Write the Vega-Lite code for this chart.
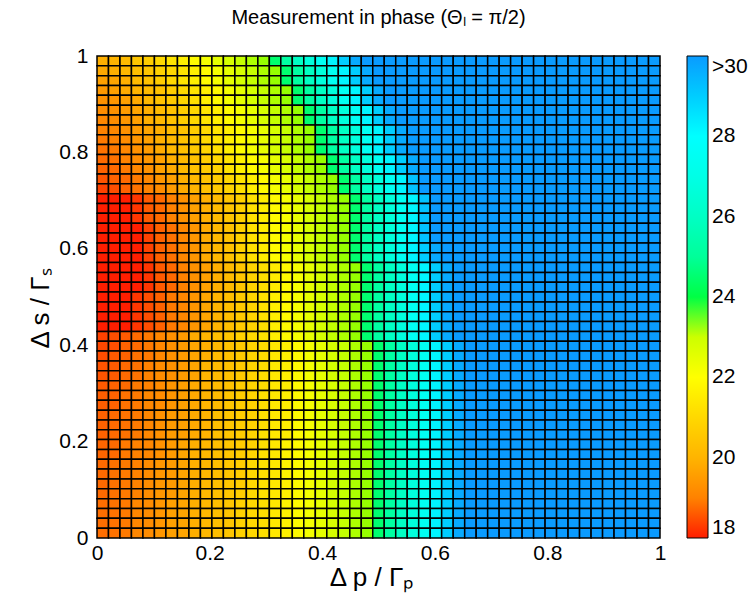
{
"$schema": "https://vega.github.io/schema/vega-lite/v6.json",
"width": 563, "height": 482,
"autosize": "none",
"padding": {"left": 97, "top": 56, "right": 96, "bottom": 69},
"background": "white",
"title": {"text": "Measurement in phase (Θₗ = π/2)", "font": "Liberation Sans", "fontSize": 20, "fontWeight": "normal", "color": "#000", "offset": 17, "anchor": "middle"},
"config": {"view": {"stroke": null}, "font": "Liberation Sans"},
"datasets": {
"grid": [{"k":0,"lo":0,"hi":0.0204},{"k":1,"lo":0.0204,"hi":0.0408},{"k":2,"lo":0.0408,"hi":0.0612},{"k":3,"lo":0.0612,"hi":0.0816},{"k":4,"lo":0.0816,"hi":0.102},{"k":5,"lo":0.102,"hi":0.1224},{"k":6,"lo":0.1224,"hi":0.1429},{"k":7,"lo":0.1429,"hi":0.1633},{"k":8,"lo":0.1633,"hi":0.1837},{"k":9,"lo":0.1837,"hi":0.2041},{"k":10,"lo":0.2041,"hi":0.2245},{"k":11,"lo":0.2245,"hi":0.2449},{"k":12,"lo":0.2449,"hi":0.2653},{"k":13,"lo":0.2653,"hi":0.2857},{"k":14,"lo":0.2857,"hi":0.3061},{"k":15,"lo":0.3061,"hi":0.3265},{"k":16,"lo":0.3265,"hi":0.3469},{"k":17,"lo":0.3469,"hi":0.3673},{"k":18,"lo":0.3673,"hi":0.3878},{"k":19,"lo":0.3878,"hi":0.4082},{"k":20,"lo":0.4082,"hi":0.4286},{"k":21,"lo":0.4286,"hi":0.449},{"k":22,"lo":0.449,"hi":0.4694},{"k":23,"lo":0.4694,"hi":0.4898},{"k":24,"lo":0.4898,"hi":0.5102},{"k":25,"lo":0.5102,"hi":0.5306},{"k":26,"lo":0.5306,"hi":0.551},{"k":27,"lo":0.551,"hi":0.5714},{"k":28,"lo":0.5714,"hi":0.5918},{"k":29,"lo":0.5918,"hi":0.6122},{"k":30,"lo":0.6122,"hi":0.6327},{"k":31,"lo":0.6327,"hi":0.6531},{"k":32,"lo":0.6531,"hi":0.6735},{"k":33,"lo":0.6735,"hi":0.6939},{"k":34,"lo":0.6939,"hi":0.7143},{"k":35,"lo":0.7143,"hi":0.7347},{"k":36,"lo":0.7347,"hi":0.7551},{"k":37,"lo":0.7551,"hi":0.7755},{"k":38,"lo":0.7755,"hi":0.7959},{"k":39,"lo":0.7959,"hi":0.8163},{"k":40,"lo":0.8163,"hi":0.8367},{"k":41,"lo":0.8367,"hi":0.8571},{"k":42,"lo":0.8571,"hi":0.8776},{"k":43,"lo":0.8776,"hi":0.898},{"k":44,"lo":0.898,"hi":0.9184},{"k":45,"lo":0.9184,"hi":0.9388},{"k":46,"lo":0.9388,"hi":0.9592},{"k":47,"lo":0.9592,"hi":0.9796},{"k":48,"lo":0.9796,"hi":1}],
"cells": [
{"i":0,"j":48,"v":19.9},{"i":1,"j":48,"v":20},{"i":2,"j":48,"v":20.2},{"i":3,"j":48,"v":20.5},{"i":4,"j":48,"v":20.7},{"i":5,"j":48,"v":21},{"i":6,"j":48,"v":21.3},{"i":7,"j":48,"v":21.6},{"i":8,"j":48,"v":21.9},{"i":9,"j":48,"v":22.2},{"i":10,"j":48,"v":22.5},{"i":11,"j":48,"v":22.8},{"i":12,"j":48,"v":23.1},{"i":13,"j":48,"v":23.4},{"i":14,"j":48,"v":23.7},{"i":15,"j":48,"v":24.5},{"i":16,"j":48,"v":25.2},{"i":17,"j":48,"v":26},{"i":18,"j":48,"v":26.7},{"i":19,"j":48,"v":27.5},{"i":20,"j":48,"v":28.2},{"i":21,"j":48,"v":29},{"i":22,"j":48,"v":29.7},{"i":23,"j":48,"v":31},{"i":24,"j":48,"v":31},{"i":25,"j":48,"v":31},{"i":26,"j":48,"v":31},{"i":27,"j":48,"v":31},{"i":28,"j":48,"v":31},{"i":29,"j":48,"v":31},{"i":30,"j":48,"v":31},{"i":31,"j":48,"v":31},{"i":32,"j":48,"v":31},{"i":33,"j":48,"v":31},{"i":34,"j":48,"v":31},{"i":35,"j":48,"v":31},{"i":36,"j":48,"v":31},{"i":37,"j":48,"v":31},{"i":38,"j":48,"v":31},{"i":39,"j":48,"v":31},{"i":40,"j":48,"v":31},{"i":41,"j":48,"v":31},{"i":42,"j":48,"v":31},{"i":43,"j":48,"v":31},{"i":44,"j":48,"v":31},{"i":45,"j":48,"v":31},{"i":46,"j":48,"v":31},{"i":47,"j":48,"v":31},{"i":48,"j":48,"v":31},
{"i":0,"j":47,"v":19.75},{"i":1,"j":47,"v":19.9},{"i":2,"j":47,"v":20.1},{"i":3,"j":47,"v":20.3},{"i":4,"j":47,"v":20.5},{"i":5,"j":47,"v":20.8},{"i":6,"j":47,"v":21},{"i":7,"j":47,"v":21.3},{"i":8,"j":47,"v":21.6},{"i":9,"j":47,"v":21.9},{"i":10,"j":47,"v":22.2},{"i":11,"j":47,"v":22.5},{"i":12,"j":47,"v":22.8},{"i":13,"j":47,"v":23.1},{"i":14,"j":47,"v":23.4},{"i":15,"j":47,"v":23.7},{"i":16,"j":47,"v":24.5},{"i":17,"j":47,"v":25.2},{"i":18,"j":47,"v":26},{"i":19,"j":47,"v":26.7},{"i":20,"j":47,"v":27.5},{"i":21,"j":47,"v":28.2},{"i":22,"j":47,"v":29},{"i":23,"j":47,"v":29.7},{"i":24,"j":47,"v":31},{"i":25,"j":47,"v":31},{"i":26,"j":47,"v":31},{"i":27,"j":47,"v":31},{"i":28,"j":47,"v":31},{"i":29,"j":47,"v":31},{"i":30,"j":47,"v":31},{"i":31,"j":47,"v":31},{"i":32,"j":47,"v":31},{"i":33,"j":47,"v":31},{"i":34,"j":47,"v":31},{"i":35,"j":47,"v":31},{"i":36,"j":47,"v":31},{"i":37,"j":47,"v":31},{"i":38,"j":47,"v":31},{"i":39,"j":47,"v":31},{"i":40,"j":47,"v":31},{"i":41,"j":47,"v":31},{"i":42,"j":47,"v":31},{"i":43,"j":47,"v":31},{"i":44,"j":47,"v":31},{"i":45,"j":47,"v":31},{"i":46,"j":47,"v":31},{"i":47,"j":47,"v":31},{"i":48,"j":47,"v":31},
{"i":0,"j":46,"v":19.6},{"i":1,"j":46,"v":19.7},{"i":2,"j":46,"v":19.9},{"i":3,"j":46,"v":20.2},{"i":4,"j":46,"v":20.4},{"i":5,"j":46,"v":20.7},{"i":6,"j":46,"v":21},{"i":7,"j":46,"v":21.3},{"i":8,"j":46,"v":21.6},{"i":9,"j":46,"v":21.9},{"i":10,"j":46,"v":22.2},{"i":11,"j":46,"v":22.5},{"i":12,"j":46,"v":22.8},{"i":13,"j":46,"v":23.1},{"i":14,"j":46,"v":23.4},{"i":15,"j":46,"v":23.7},{"i":16,"j":46,"v":24.5},{"i":17,"j":46,"v":25.2},{"i":18,"j":46,"v":26},{"i":19,"j":46,"v":26.7},{"i":20,"j":46,"v":27.5},{"i":21,"j":46,"v":28.2},{"i":22,"j":46,"v":29},{"i":23,"j":46,"v":29.7},{"i":24,"j":46,"v":31},{"i":25,"j":46,"v":31},{"i":26,"j":46,"v":31},{"i":27,"j":46,"v":31},{"i":28,"j":46,"v":31},{"i":29,"j":46,"v":31},{"i":30,"j":46,"v":31},{"i":31,"j":46,"v":31},{"i":32,"j":46,"v":31},{"i":33,"j":46,"v":31},{"i":34,"j":46,"v":31},{"i":35,"j":46,"v":31},{"i":36,"j":46,"v":31},{"i":37,"j":46,"v":31},{"i":38,"j":46,"v":31},{"i":39,"j":46,"v":31},{"i":40,"j":46,"v":31},{"i":41,"j":46,"v":31},{"i":42,"j":46,"v":31},{"i":43,"j":46,"v":31},{"i":44,"j":46,"v":31},{"i":45,"j":46,"v":31},{"i":46,"j":46,"v":31},{"i":47,"j":46,"v":31},{"i":48,"j":46,"v":31},
{"i":0,"j":45,"v":19.45},{"i":1,"j":45,"v":19.6},{"i":2,"j":45,"v":19.8},{"i":3,"j":45,"v":20},{"i":4,"j":45,"v":20.2},{"i":5,"j":45,"v":20.4},{"i":6,"j":45,"v":20.7},{"i":7,"j":45,"v":21},{"i":8,"j":45,"v":21.3},{"i":9,"j":45,"v":21.6},{"i":10,"j":45,"v":21.9},{"i":11,"j":45,"v":22.2},{"i":12,"j":45,"v":22.5},{"i":13,"j":45,"v":22.8},{"i":14,"j":45,"v":23.1},{"i":15,"j":45,"v":23.4},{"i":16,"j":45,"v":23.7},{"i":17,"j":45,"v":24.5},{"i":18,"j":45,"v":25.2},{"i":19,"j":45,"v":26},{"i":20,"j":45,"v":26.7},{"i":21,"j":45,"v":27.5},{"i":22,"j":45,"v":28.2},{"i":23,"j":45,"v":29},{"i":24,"j":45,"v":29.7},{"i":25,"j":45,"v":31},{"i":26,"j":45,"v":31},{"i":27,"j":45,"v":31},{"i":28,"j":45,"v":31},{"i":29,"j":45,"v":31},{"i":30,"j":45,"v":31},{"i":31,"j":45,"v":31},{"i":32,"j":45,"v":31},{"i":33,"j":45,"v":31},{"i":34,"j":45,"v":31},{"i":35,"j":45,"v":31},{"i":36,"j":45,"v":31},{"i":37,"j":45,"v":31},{"i":38,"j":45,"v":31},{"i":39,"j":45,"v":31},{"i":40,"j":45,"v":31},{"i":41,"j":45,"v":31},{"i":42,"j":45,"v":31},{"i":43,"j":45,"v":31},{"i":44,"j":45,"v":31},{"i":45,"j":45,"v":31},{"i":46,"j":45,"v":31},{"i":47,"j":45,"v":31},{"i":48,"j":45,"v":31},
{"i":0,"j":44,"v":19.3},{"i":1,"j":44,"v":19.4},{"i":2,"j":44,"v":19.6},{"i":3,"j":44,"v":19.8},{"i":4,"j":44,"v":20.1},{"i":5,"j":44,"v":20.4},{"i":6,"j":44,"v":20.6},{"i":7,"j":44,"v":20.9},{"i":8,"j":44,"v":21.2},{"i":9,"j":44,"v":21.6},{"i":10,"j":44,"v":21.9},{"i":11,"j":44,"v":22.2},{"i":12,"j":44,"v":22.5},{"i":13,"j":44,"v":22.8},{"i":14,"j":44,"v":23.1},{"i":15,"j":44,"v":23.4},{"i":16,"j":44,"v":23.7},{"i":17,"j":44,"v":24.5},{"i":18,"j":44,"v":25.2},{"i":19,"j":44,"v":26},{"i":20,"j":44,"v":26.7},{"i":21,"j":44,"v":27.5},{"i":22,"j":44,"v":28.2},{"i":23,"j":44,"v":29},{"i":24,"j":44,"v":29.7},{"i":25,"j":44,"v":31},{"i":26,"j":44,"v":31},{"i":27,"j":44,"v":31},{"i":28,"j":44,"v":31},{"i":29,"j":44,"v":31},{"i":30,"j":44,"v":31},{"i":31,"j":44,"v":31},{"i":32,"j":44,"v":31},{"i":33,"j":44,"v":31},{"i":34,"j":44,"v":31},{"i":35,"j":44,"v":31},{"i":36,"j":44,"v":31},{"i":37,"j":44,"v":31},{"i":38,"j":44,"v":31},{"i":39,"j":44,"v":31},{"i":40,"j":44,"v":31},{"i":41,"j":44,"v":31},{"i":42,"j":44,"v":31},{"i":43,"j":44,"v":31},{"i":44,"j":44,"v":31},{"i":45,"j":44,"v":31},{"i":46,"j":44,"v":31},{"i":47,"j":44,"v":31},{"i":48,"j":44,"v":31},
{"i":0,"j":43,"v":19.2},{"i":1,"j":43,"v":19.3},{"i":2,"j":43,"v":19.5},{"i":3,"j":43,"v":19.7},{"i":4,"j":43,"v":19.9},{"i":5,"j":43,"v":20.2},{"i":6,"j":43,"v":20.4},{"i":7,"j":43,"v":20.7},{"i":8,"j":43,"v":21},{"i":9,"j":43,"v":21.3},{"i":10,"j":43,"v":21.6},{"i":11,"j":43,"v":21.9},{"i":12,"j":43,"v":22.2},{"i":13,"j":43,"v":22.5},{"i":14,"j":43,"v":22.8},{"i":15,"j":43,"v":23.1},{"i":16,"j":43,"v":23.4},{"i":17,"j":43,"v":23.7},{"i":18,"j":43,"v":24.5},{"i":19,"j":43,"v":25.2},{"i":20,"j":43,"v":26},{"i":21,"j":43,"v":26.7},{"i":22,"j":43,"v":27.5},{"i":23,"j":43,"v":28.2},{"i":24,"j":43,"v":29},{"i":25,"j":43,"v":29.7},{"i":26,"j":43,"v":31},{"i":27,"j":43,"v":31},{"i":28,"j":43,"v":31},{"i":29,"j":43,"v":31},{"i":30,"j":43,"v":31},{"i":31,"j":43,"v":31},{"i":32,"j":43,"v":31},{"i":33,"j":43,"v":31},{"i":34,"j":43,"v":31},{"i":35,"j":43,"v":31},{"i":36,"j":43,"v":31},{"i":37,"j":43,"v":31},{"i":38,"j":43,"v":31},{"i":39,"j":43,"v":31},{"i":40,"j":43,"v":31},{"i":41,"j":43,"v":31},{"i":42,"j":43,"v":31},{"i":43,"j":43,"v":31},{"i":44,"j":43,"v":31},{"i":45,"j":43,"v":31},{"i":46,"j":43,"v":31},{"i":47,"j":43,"v":31},{"i":48,"j":43,"v":31},
{"i":0,"j":42,"v":19.1},{"i":1,"j":42,"v":19.2},{"i":2,"j":42,"v":19.4},{"i":3,"j":42,"v":19.6},{"i":4,"j":42,"v":19.9},{"i":5,"j":42,"v":20.1},{"i":6,"j":42,"v":20.4},{"i":7,"j":42,"v":20.7},{"i":8,"j":42,"v":21},{"i":9,"j":42,"v":21.3},{"i":10,"j":42,"v":21.6},{"i":11,"j":42,"v":21.9},{"i":12,"j":42,"v":22.2},{"i":13,"j":42,"v":22.5},{"i":14,"j":42,"v":22.8},{"i":15,"j":42,"v":23.1},{"i":16,"j":42,"v":23.4},{"i":17,"j":42,"v":23.7},{"i":18,"j":42,"v":24.5},{"i":19,"j":42,"v":25.2},{"i":20,"j":42,"v":26},{"i":21,"j":42,"v":26.7},{"i":22,"j":42,"v":27.5},{"i":23,"j":42,"v":28.2},{"i":24,"j":42,"v":29},{"i":25,"j":42,"v":29.7},{"i":26,"j":42,"v":31},{"i":27,"j":42,"v":31},{"i":28,"j":42,"v":31},{"i":29,"j":42,"v":31},{"i":30,"j":42,"v":31},{"i":31,"j":42,"v":31},{"i":32,"j":42,"v":31},{"i":33,"j":42,"v":31},{"i":34,"j":42,"v":31},{"i":35,"j":42,"v":31},{"i":36,"j":42,"v":31},{"i":37,"j":42,"v":31},{"i":38,"j":42,"v":31},{"i":39,"j":42,"v":31},{"i":40,"j":42,"v":31},{"i":41,"j":42,"v":31},{"i":42,"j":42,"v":31},{"i":43,"j":42,"v":31},{"i":44,"j":42,"v":31},{"i":45,"j":42,"v":31},{"i":46,"j":42,"v":31},{"i":47,"j":42,"v":31},{"i":48,"j":42,"v":31},
{"i":0,"j":41,"v":19},{"i":1,"j":41,"v":19.1},{"i":2,"j":41,"v":19.3},{"i":3,"j":41,"v":19.5},{"i":4,"j":41,"v":19.7},{"i":5,"j":41,"v":19.9},{"i":6,"j":41,"v":20.2},{"i":7,"j":41,"v":20.4},{"i":8,"j":41,"v":20.7},{"i":9,"j":41,"v":21},{"i":10,"j":41,"v":21.3},{"i":11,"j":41,"v":21.6},{"i":12,"j":41,"v":21.9},{"i":13,"j":41,"v":22.2},{"i":14,"j":41,"v":22.5},{"i":15,"j":41,"v":22.8},{"i":16,"j":41,"v":23.1},{"i":17,"j":41,"v":23.4},{"i":18,"j":41,"v":23.7},{"i":19,"j":41,"v":24.5},{"i":20,"j":41,"v":25.2},{"i":21,"j":41,"v":26},{"i":22,"j":41,"v":26.7},{"i":23,"j":41,"v":27.5},{"i":24,"j":41,"v":28.2},{"i":25,"j":41,"v":29},{"i":26,"j":41,"v":29.7},{"i":27,"j":41,"v":31},{"i":28,"j":41,"v":31},{"i":29,"j":41,"v":31},{"i":30,"j":41,"v":31},{"i":31,"j":41,"v":31},{"i":32,"j":41,"v":31},{"i":33,"j":41,"v":31},{"i":34,"j":41,"v":31},{"i":35,"j":41,"v":31},{"i":36,"j":41,"v":31},{"i":37,"j":41,"v":31},{"i":38,"j":41,"v":31},{"i":39,"j":41,"v":31},{"i":40,"j":41,"v":31},{"i":41,"j":41,"v":31},{"i":42,"j":41,"v":31},{"i":43,"j":41,"v":31},{"i":44,"j":41,"v":31},{"i":45,"j":41,"v":31},{"i":46,"j":41,"v":31},{"i":47,"j":41,"v":31},{"i":48,"j":41,"v":31},
{"i":0,"j":40,"v":18.9},{"i":1,"j":40,"v":19},{"i":2,"j":40,"v":19.2},{"i":3,"j":40,"v":19.4},{"i":4,"j":40,"v":19.6},{"i":5,"j":40,"v":19.9},{"i":6,"j":40,"v":20.1},{"i":7,"j":40,"v":20.4},{"i":8,"j":40,"v":20.7},{"i":9,"j":40,"v":21},{"i":10,"j":40,"v":21.3},{"i":11,"j":40,"v":21.6},{"i":12,"j":40,"v":21.9},{"i":13,"j":40,"v":22.2},{"i":14,"j":40,"v":22.5},{"i":15,"j":40,"v":22.8},{"i":16,"j":40,"v":23.1},{"i":17,"j":40,"v":23.4},{"i":18,"j":40,"v":23.7},{"i":19,"j":40,"v":24.5},{"i":20,"j":40,"v":25.2},{"i":21,"j":40,"v":26},{"i":22,"j":40,"v":26.7},{"i":23,"j":40,"v":27.5},{"i":24,"j":40,"v":28.2},{"i":25,"j":40,"v":29},{"i":26,"j":40,"v":29.7},{"i":27,"j":40,"v":31},{"i":28,"j":40,"v":31},{"i":29,"j":40,"v":31},{"i":30,"j":40,"v":31},{"i":31,"j":40,"v":31},{"i":32,"j":40,"v":31},{"i":33,"j":40,"v":31},{"i":34,"j":40,"v":31},{"i":35,"j":40,"v":31},{"i":36,"j":40,"v":31},{"i":37,"j":40,"v":31},{"i":38,"j":40,"v":31},{"i":39,"j":40,"v":31},{"i":40,"j":40,"v":31},{"i":41,"j":40,"v":31},{"i":42,"j":40,"v":31},{"i":43,"j":40,"v":31},{"i":44,"j":40,"v":31},{"i":45,"j":40,"v":31},{"i":46,"j":40,"v":31},{"i":47,"j":40,"v":31},{"i":48,"j":40,"v":31},
{"i":0,"j":39,"v":18.8},{"i":1,"j":39,"v":18.9},{"i":2,"j":39,"v":19.1},{"i":3,"j":39,"v":19.3},{"i":4,"j":39,"v":19.5},{"i":5,"j":39,"v":19.8},{"i":6,"j":39,"v":20.1},{"i":7,"j":39,"v":20.3},{"i":8,"j":39,"v":20.6},{"i":9,"j":39,"v":20.9},{"i":10,"j":39,"v":21.2},{"i":11,"j":39,"v":21.6},{"i":12,"j":39,"v":21.9},{"i":13,"j":39,"v":22.2},{"i":14,"j":39,"v":22.5},{"i":15,"j":39,"v":22.8},{"i":16,"j":39,"v":23.1},{"i":17,"j":39,"v":23.4},{"i":18,"j":39,"v":23.7},{"i":19,"j":39,"v":24.5},{"i":20,"j":39,"v":25.2},{"i":21,"j":39,"v":26},{"i":22,"j":39,"v":26.7},{"i":23,"j":39,"v":27.5},{"i":24,"j":39,"v":28.2},{"i":25,"j":39,"v":29},{"i":26,"j":39,"v":29.7},{"i":27,"j":39,"v":31},{"i":28,"j":39,"v":31},{"i":29,"j":39,"v":31},{"i":30,"j":39,"v":31},{"i":31,"j":39,"v":31},{"i":32,"j":39,"v":31},{"i":33,"j":39,"v":31},{"i":34,"j":39,"v":31},{"i":35,"j":39,"v":31},{"i":36,"j":39,"v":31},{"i":37,"j":39,"v":31},{"i":38,"j":39,"v":31},{"i":39,"j":39,"v":31},{"i":40,"j":39,"v":31},{"i":41,"j":39,"v":31},{"i":42,"j":39,"v":31},{"i":43,"j":39,"v":31},{"i":44,"j":39,"v":31},{"i":45,"j":39,"v":31},{"i":46,"j":39,"v":31},{"i":47,"j":39,"v":31},{"i":48,"j":39,"v":31},
{"i":0,"j":38,"v":18.7},{"i":1,"j":38,"v":18.8},{"i":2,"j":38,"v":19},{"i":3,"j":38,"v":19.2},{"i":4,"j":38,"v":19.4},{"i":5,"j":38,"v":19.6},{"i":6,"j":38,"v":19.9},{"i":7,"j":38,"v":20.1},{"i":8,"j":38,"v":20.4},{"i":9,"j":38,"v":20.7},{"i":10,"j":38,"v":21},{"i":11,"j":38,"v":21.3},{"i":12,"j":38,"v":21.6},{"i":13,"j":38,"v":21.9},{"i":14,"j":38,"v":22.2},{"i":15,"j":38,"v":22.5},{"i":16,"j":38,"v":22.8},{"i":17,"j":38,"v":23.1},{"i":18,"j":38,"v":23.4},{"i":19,"j":38,"v":23.7},{"i":20,"j":38,"v":24.5},{"i":21,"j":38,"v":25.2},{"i":22,"j":38,"v":26},{"i":23,"j":38,"v":26.7},{"i":24,"j":38,"v":27.5},{"i":25,"j":38,"v":28.2},{"i":26,"j":38,"v":29},{"i":27,"j":38,"v":29.7},{"i":28,"j":38,"v":31},{"i":29,"j":38,"v":31},{"i":30,"j":38,"v":31},{"i":31,"j":38,"v":31},{"i":32,"j":38,"v":31},{"i":33,"j":38,"v":31},{"i":34,"j":38,"v":31},{"i":35,"j":38,"v":31},{"i":36,"j":38,"v":31},{"i":37,"j":38,"v":31},{"i":38,"j":38,"v":31},{"i":39,"j":38,"v":31},{"i":40,"j":38,"v":31},{"i":41,"j":38,"v":31},{"i":42,"j":38,"v":31},{"i":43,"j":38,"v":31},{"i":44,"j":38,"v":31},{"i":45,"j":38,"v":31},{"i":46,"j":38,"v":31},{"i":47,"j":38,"v":31},{"i":48,"j":38,"v":31},
{"i":0,"j":37,"v":18.6},{"i":1,"j":37,"v":18.7},{"i":2,"j":37,"v":18.9},{"i":3,"j":37,"v":19.1},{"i":4,"j":37,"v":19.3},{"i":5,"j":37,"v":19.6},{"i":6,"j":37,"v":19.8},{"i":7,"j":37,"v":20.1},{"i":8,"j":37,"v":20.4},{"i":9,"j":37,"v":20.6},{"i":10,"j":37,"v":20.9},{"i":11,"j":37,"v":21.3},{"i":12,"j":37,"v":21.6},{"i":13,"j":37,"v":21.9},{"i":14,"j":37,"v":22.2},{"i":15,"j":37,"v":22.5},{"i":16,"j":37,"v":22.8},{"i":17,"j":37,"v":23.1},{"i":18,"j":37,"v":23.4},{"i":19,"j":37,"v":23.7},{"i":20,"j":37,"v":24.5},{"i":21,"j":37,"v":25.2},{"i":22,"j":37,"v":26},{"i":23,"j":37,"v":26.7},{"i":24,"j":37,"v":27.5},{"i":25,"j":37,"v":28.2},{"i":26,"j":37,"v":29},{"i":27,"j":37,"v":29.7},{"i":28,"j":37,"v":31},{"i":29,"j":37,"v":31},{"i":30,"j":37,"v":31},{"i":31,"j":37,"v":31},{"i":32,"j":37,"v":31},{"i":33,"j":37,"v":31},{"i":34,"j":37,"v":31},{"i":35,"j":37,"v":31},{"i":36,"j":37,"v":31},{"i":37,"j":37,"v":31},{"i":38,"j":37,"v":31},{"i":39,"j":37,"v":31},{"i":40,"j":37,"v":31},{"i":41,"j":37,"v":31},{"i":42,"j":37,"v":31},{"i":43,"j":37,"v":31},{"i":44,"j":37,"v":31},{"i":45,"j":37,"v":31},{"i":46,"j":37,"v":31},{"i":47,"j":37,"v":31},{"i":48,"j":37,"v":31},
{"i":0,"j":36,"v":18.45},{"i":1,"j":36,"v":18.6},{"i":2,"j":36,"v":18.7},{"i":3,"j":36,"v":18.9},{"i":4,"j":36,"v":19.1},{"i":5,"j":36,"v":19.4},{"i":6,"j":36,"v":19.6},{"i":7,"j":36,"v":19.9},{"i":8,"j":36,"v":20.1},{"i":9,"j":36,"v":20.4},{"i":10,"j":36,"v":20.7},{"i":11,"j":36,"v":21},{"i":12,"j":36,"v":21.3},{"i":13,"j":36,"v":21.6},{"i":14,"j":36,"v":21.9},{"i":15,"j":36,"v":22.2},{"i":16,"j":36,"v":22.5},{"i":17,"j":36,"v":22.8},{"i":18,"j":36,"v":23.1},{"i":19,"j":36,"v":23.4},{"i":20,"j":36,"v":23.7},{"i":21,"j":36,"v":24.5},{"i":22,"j":36,"v":25.2},{"i":23,"j":36,"v":26},{"i":24,"j":36,"v":26.7},{"i":25,"j":36,"v":27.5},{"i":26,"j":36,"v":28.2},{"i":27,"j":36,"v":29.2},{"i":28,"j":36,"v":31},{"i":29,"j":36,"v":31},{"i":30,"j":36,"v":31},{"i":31,"j":36,"v":31},{"i":32,"j":36,"v":31},{"i":33,"j":36,"v":31},{"i":34,"j":36,"v":31},{"i":35,"j":36,"v":31},{"i":36,"j":36,"v":31},{"i":37,"j":36,"v":31},{"i":38,"j":36,"v":31},{"i":39,"j":36,"v":31},{"i":40,"j":36,"v":31},{"i":41,"j":36,"v":31},{"i":42,"j":36,"v":31},{"i":43,"j":36,"v":31},{"i":44,"j":36,"v":31},{"i":45,"j":36,"v":31},{"i":46,"j":36,"v":31},{"i":47,"j":36,"v":31},{"i":48,"j":36,"v":31},
{"i":0,"j":35,"v":18.3},{"i":1,"j":35,"v":18.4},{"i":2,"j":35,"v":18.6},{"i":3,"j":35,"v":18.8},{"i":4,"j":35,"v":19},{"i":5,"j":35,"v":19.2},{"i":6,"j":35,"v":19.5},{"i":7,"j":35,"v":19.8},{"i":8,"j":35,"v":20},{"i":9,"j":35,"v":20.3},{"i":10,"j":35,"v":20.6},{"i":11,"j":35,"v":20.9},{"i":12,"j":35,"v":21.2},{"i":13,"j":35,"v":21.6},{"i":14,"j":35,"v":21.9},{"i":15,"j":35,"v":22.2},{"i":16,"j":35,"v":22.5},{"i":17,"j":35,"v":22.8},{"i":18,"j":35,"v":23.1},{"i":19,"j":35,"v":23.4},{"i":20,"j":35,"v":23.7},{"i":21,"j":35,"v":24.5},{"i":22,"j":35,"v":25.2},{"i":23,"j":35,"v":26},{"i":24,"j":35,"v":26.7},{"i":25,"j":35,"v":27.5},{"i":26,"j":35,"v":28.2},{"i":27,"j":35,"v":29.2},{"i":28,"j":35,"v":31},{"i":29,"j":35,"v":31},{"i":30,"j":35,"v":31},{"i":31,"j":35,"v":31},{"i":32,"j":35,"v":31},{"i":33,"j":35,"v":31},{"i":34,"j":35,"v":31},{"i":35,"j":35,"v":31},{"i":36,"j":35,"v":31},{"i":37,"j":35,"v":31},{"i":38,"j":35,"v":31},{"i":39,"j":35,"v":31},{"i":40,"j":35,"v":31},{"i":41,"j":35,"v":31},{"i":42,"j":35,"v":31},{"i":43,"j":35,"v":31},{"i":44,"j":35,"v":31},{"i":45,"j":35,"v":31},{"i":46,"j":35,"v":31},{"i":47,"j":35,"v":31},{"i":48,"j":35,"v":31},
{"i":0,"j":34,"v":17.7},{"i":1,"j":34,"v":17.8},{"i":2,"j":34,"v":18},{"i":3,"j":34,"v":18.2},{"i":4,"j":34,"v":18.5},{"i":5,"j":34,"v":18.7},{"i":6,"j":34,"v":19},{"i":7,"j":34,"v":19.3},{"i":8,"j":34,"v":19.6},{"i":9,"j":34,"v":19.9},{"i":10,"j":34,"v":20.2},{"i":11,"j":34,"v":20.5},{"i":12,"j":34,"v":20.8},{"i":13,"j":34,"v":21.2},{"i":14,"j":34,"v":21.5},{"i":15,"j":34,"v":21.9},{"i":16,"j":34,"v":22.2},{"i":17,"j":34,"v":22.5},{"i":18,"j":34,"v":22.8},{"i":19,"j":34,"v":23.1},{"i":20,"j":34,"v":23.4},{"i":21,"j":34,"v":23.7},{"i":22,"j":34,"v":24.5},{"i":23,"j":34,"v":25.2},{"i":24,"j":34,"v":26},{"i":25,"j":34,"v":26.7},{"i":26,"j":34,"v":27.5},{"i":27,"j":34,"v":28.2},{"i":28,"j":34,"v":29.2},{"i":29,"j":34,"v":31},{"i":30,"j":34,"v":31},{"i":31,"j":34,"v":31},{"i":32,"j":34,"v":31},{"i":33,"j":34,"v":31},{"i":34,"j":34,"v":31},{"i":35,"j":34,"v":31},{"i":36,"j":34,"v":31},{"i":37,"j":34,"v":31},{"i":38,"j":34,"v":31},{"i":39,"j":34,"v":31},{"i":40,"j":34,"v":31},{"i":41,"j":34,"v":31},{"i":42,"j":34,"v":31},{"i":43,"j":34,"v":31},{"i":44,"j":34,"v":31},{"i":45,"j":34,"v":31},{"i":46,"j":34,"v":31},{"i":47,"j":34,"v":31},{"i":48,"j":34,"v":31},
{"i":0,"j":33,"v":17.7},{"i":1,"j":33,"v":17.8},{"i":2,"j":33,"v":18},{"i":3,"j":33,"v":18.2},{"i":4,"j":33,"v":18.5},{"i":5,"j":33,"v":18.7},{"i":6,"j":33,"v":19},{"i":7,"j":33,"v":19.3},{"i":8,"j":33,"v":19.6},{"i":9,"j":33,"v":19.9},{"i":10,"j":33,"v":20.2},{"i":11,"j":33,"v":20.5},{"i":12,"j":33,"v":20.8},{"i":13,"j":33,"v":21.2},{"i":14,"j":33,"v":21.5},{"i":15,"j":33,"v":21.9},{"i":16,"j":33,"v":22.2},{"i":17,"j":33,"v":22.5},{"i":18,"j":33,"v":22.8},{"i":19,"j":33,"v":23.1},{"i":20,"j":33,"v":23.4},{"i":21,"j":33,"v":23.7},{"i":22,"j":33,"v":24.5},{"i":23,"j":33,"v":25.2},{"i":24,"j":33,"v":26},{"i":25,"j":33,"v":26.7},{"i":26,"j":33,"v":27.5},{"i":27,"j":33,"v":28.2},{"i":28,"j":33,"v":29.2},{"i":29,"j":33,"v":31},{"i":30,"j":33,"v":31},{"i":31,"j":33,"v":31},{"i":32,"j":33,"v":31},{"i":33,"j":33,"v":31},{"i":34,"j":33,"v":31},{"i":35,"j":33,"v":31},{"i":36,"j":33,"v":31},{"i":37,"j":33,"v":31},{"i":38,"j":33,"v":31},{"i":39,"j":33,"v":31},{"i":40,"j":33,"v":31},{"i":41,"j":33,"v":31},{"i":42,"j":33,"v":31},{"i":43,"j":33,"v":31},{"i":44,"j":33,"v":31},{"i":45,"j":33,"v":31},{"i":46,"j":33,"v":31},{"i":47,"j":33,"v":31},{"i":48,"j":33,"v":31},
{"i":0,"j":32,"v":17.7},{"i":1,"j":32,"v":17.8},{"i":2,"j":32,"v":18},{"i":3,"j":32,"v":18.2},{"i":4,"j":32,"v":18.5},{"i":5,"j":32,"v":18.7},{"i":6,"j":32,"v":19},{"i":7,"j":32,"v":19.3},{"i":8,"j":32,"v":19.6},{"i":9,"j":32,"v":19.9},{"i":10,"j":32,"v":20.2},{"i":11,"j":32,"v":20.5},{"i":12,"j":32,"v":20.8},{"i":13,"j":32,"v":21.2},{"i":14,"j":32,"v":21.5},{"i":15,"j":32,"v":21.9},{"i":16,"j":32,"v":22.2},{"i":17,"j":32,"v":22.5},{"i":18,"j":32,"v":22.8},{"i":19,"j":32,"v":23.1},{"i":20,"j":32,"v":23.4},{"i":21,"j":32,"v":23.7},{"i":22,"j":32,"v":24.5},{"i":23,"j":32,"v":25.2},{"i":24,"j":32,"v":26},{"i":25,"j":32,"v":26.7},{"i":26,"j":32,"v":27.5},{"i":27,"j":32,"v":28.2},{"i":28,"j":32,"v":29.2},{"i":29,"j":32,"v":31},{"i":30,"j":32,"v":31},{"i":31,"j":32,"v":31},{"i":32,"j":32,"v":31},{"i":33,"j":32,"v":31},{"i":34,"j":32,"v":31},{"i":35,"j":32,"v":31},{"i":36,"j":32,"v":31},{"i":37,"j":32,"v":31},{"i":38,"j":32,"v":31},{"i":39,"j":32,"v":31},{"i":40,"j":32,"v":31},{"i":41,"j":32,"v":31},{"i":42,"j":32,"v":31},{"i":43,"j":32,"v":31},{"i":44,"j":32,"v":31},{"i":45,"j":32,"v":31},{"i":46,"j":32,"v":31},{"i":47,"j":32,"v":31},{"i":48,"j":32,"v":31},
{"i":0,"j":31,"v":17.5},{"i":1,"j":31,"v":17.6},{"i":2,"j":31,"v":17.8},{"i":3,"j":31,"v":18},{"i":4,"j":31,"v":18.3},{"i":5,"j":31,"v":18.6},{"i":6,"j":31,"v":18.8},{"i":7,"j":31,"v":19.1},{"i":8,"j":31,"v":19.4},{"i":9,"j":31,"v":19.8},{"i":10,"j":31,"v":20.1},{"i":11,"j":31,"v":20.4},{"i":12,"j":31,"v":20.8},{"i":13,"j":31,"v":21.2},{"i":14,"j":31,"v":21.5},{"i":15,"j":31,"v":21.9},{"i":16,"j":31,"v":22.2},{"i":17,"j":31,"v":22.5},{"i":18,"j":31,"v":22.8},{"i":19,"j":31,"v":23.1},{"i":20,"j":31,"v":23.4},{"i":21,"j":31,"v":23.7},{"i":22,"j":31,"v":24.5},{"i":23,"j":31,"v":25.2},{"i":24,"j":31,"v":26},{"i":25,"j":31,"v":26.7},{"i":26,"j":31,"v":27.5},{"i":27,"j":31,"v":28.2},{"i":28,"j":31,"v":29.2},{"i":29,"j":31,"v":31},{"i":30,"j":31,"v":31},{"i":31,"j":31,"v":31},{"i":32,"j":31,"v":31},{"i":33,"j":31,"v":31},{"i":34,"j":31,"v":31},{"i":35,"j":31,"v":31},{"i":36,"j":31,"v":31},{"i":37,"j":31,"v":31},{"i":38,"j":31,"v":31},{"i":39,"j":31,"v":31},{"i":40,"j":31,"v":31},{"i":41,"j":31,"v":31},{"i":42,"j":31,"v":31},{"i":43,"j":31,"v":31},{"i":44,"j":31,"v":31},{"i":45,"j":31,"v":31},{"i":46,"j":31,"v":31},{"i":47,"j":31,"v":31},{"i":48,"j":31,"v":31},
{"i":0,"j":30,"v":17.5},{"i":1,"j":30,"v":17.6},{"i":2,"j":30,"v":17.8},{"i":3,"j":30,"v":18},{"i":4,"j":30,"v":18.3},{"i":5,"j":30,"v":18.6},{"i":6,"j":30,"v":18.8},{"i":7,"j":30,"v":19.1},{"i":8,"j":30,"v":19.4},{"i":9,"j":30,"v":19.8},{"i":10,"j":30,"v":20.1},{"i":11,"j":30,"v":20.4},{"i":12,"j":30,"v":20.8},{"i":13,"j":30,"v":21.2},{"i":14,"j":30,"v":21.5},{"i":15,"j":30,"v":21.9},{"i":16,"j":30,"v":22.2},{"i":17,"j":30,"v":22.5},{"i":18,"j":30,"v":22.8},{"i":19,"j":30,"v":23.1},{"i":20,"j":30,"v":23.4},{"i":21,"j":30,"v":23.7},{"i":22,"j":30,"v":24.5},{"i":23,"j":30,"v":25.2},{"i":24,"j":30,"v":26},{"i":25,"j":30,"v":26.7},{"i":26,"j":30,"v":27.5},{"i":27,"j":30,"v":28.2},{"i":28,"j":30,"v":29.2},{"i":29,"j":30,"v":31},{"i":30,"j":30,"v":31},{"i":31,"j":30,"v":31},{"i":32,"j":30,"v":31},{"i":33,"j":30,"v":31},{"i":34,"j":30,"v":31},{"i":35,"j":30,"v":31},{"i":36,"j":30,"v":31},{"i":37,"j":30,"v":31},{"i":38,"j":30,"v":31},{"i":39,"j":30,"v":31},{"i":40,"j":30,"v":31},{"i":41,"j":30,"v":31},{"i":42,"j":30,"v":31},{"i":43,"j":30,"v":31},{"i":44,"j":30,"v":31},{"i":45,"j":30,"v":31},{"i":46,"j":30,"v":31},{"i":47,"j":30,"v":31},{"i":48,"j":30,"v":31},
{"i":0,"j":29,"v":17.5},{"i":1,"j":29,"v":17.6},{"i":2,"j":29,"v":17.8},{"i":3,"j":29,"v":18},{"i":4,"j":29,"v":18.3},{"i":5,"j":29,"v":18.6},{"i":6,"j":29,"v":18.8},{"i":7,"j":29,"v":19.1},{"i":8,"j":29,"v":19.4},{"i":9,"j":29,"v":19.8},{"i":10,"j":29,"v":20.1},{"i":11,"j":29,"v":20.4},{"i":12,"j":29,"v":20.8},{"i":13,"j":29,"v":21.2},{"i":14,"j":29,"v":21.5},{"i":15,"j":29,"v":21.9},{"i":16,"j":29,"v":22.2},{"i":17,"j":29,"v":22.5},{"i":18,"j":29,"v":22.8},{"i":19,"j":29,"v":23.1},{"i":20,"j":29,"v":23.4},{"i":21,"j":29,"v":23.7},{"i":22,"j":29,"v":24.5},{"i":23,"j":29,"v":25.2},{"i":24,"j":29,"v":26},{"i":25,"j":29,"v":26.7},{"i":26,"j":29,"v":27.5},{"i":27,"j":29,"v":28.2},{"i":28,"j":29,"v":29},{"i":29,"j":29,"v":29.7},{"i":30,"j":29,"v":31},{"i":31,"j":29,"v":31},{"i":32,"j":29,"v":31},{"i":33,"j":29,"v":31},{"i":34,"j":29,"v":31},{"i":35,"j":29,"v":31},{"i":36,"j":29,"v":31},{"i":37,"j":29,"v":31},{"i":38,"j":29,"v":31},{"i":39,"j":29,"v":31},{"i":40,"j":29,"v":31},{"i":41,"j":29,"v":31},{"i":42,"j":29,"v":31},{"i":43,"j":29,"v":31},{"i":44,"j":29,"v":31},{"i":45,"j":29,"v":31},{"i":46,"j":29,"v":31},{"i":47,"j":29,"v":31},{"i":48,"j":29,"v":31},
{"i":0,"j":28,"v":17.5},{"i":1,"j":28,"v":17.6},{"i":2,"j":28,"v":17.8},{"i":3,"j":28,"v":18},{"i":4,"j":28,"v":18.3},{"i":5,"j":28,"v":18.6},{"i":6,"j":28,"v":18.8},{"i":7,"j":28,"v":19.1},{"i":8,"j":28,"v":19.4},{"i":9,"j":28,"v":19.8},{"i":10,"j":28,"v":20.1},{"i":11,"j":28,"v":20.4},{"i":12,"j":28,"v":20.8},{"i":13,"j":28,"v":21.2},{"i":14,"j":28,"v":21.5},{"i":15,"j":28,"v":21.9},{"i":16,"j":28,"v":22.2},{"i":17,"j":28,"v":22.5},{"i":18,"j":28,"v":22.8},{"i":19,"j":28,"v":23.1},{"i":20,"j":28,"v":23.4},{"i":21,"j":28,"v":23.7},{"i":22,"j":28,"v":24.5},{"i":23,"j":28,"v":25.2},{"i":24,"j":28,"v":26},{"i":25,"j":28,"v":26.7},{"i":26,"j":28,"v":27.5},{"i":27,"j":28,"v":28.2},{"i":28,"j":28,"v":29},{"i":29,"j":28,"v":29.7},{"i":30,"j":28,"v":31},{"i":31,"j":28,"v":31},{"i":32,"j":28,"v":31},{"i":33,"j":28,"v":31},{"i":34,"j":28,"v":31},{"i":35,"j":28,"v":31},{"i":36,"j":28,"v":31},{"i":37,"j":28,"v":31},{"i":38,"j":28,"v":31},{"i":39,"j":28,"v":31},{"i":40,"j":28,"v":31},{"i":41,"j":28,"v":31},{"i":42,"j":28,"v":31},{"i":43,"j":28,"v":31},{"i":44,"j":28,"v":31},{"i":45,"j":28,"v":31},{"i":46,"j":28,"v":31},{"i":47,"j":28,"v":31},{"i":48,"j":28,"v":31},
{"i":0,"j":27,"v":17.5},{"i":1,"j":27,"v":17.6},{"i":2,"j":27,"v":17.8},{"i":3,"j":27,"v":18},{"i":4,"j":27,"v":18.2},{"i":5,"j":27,"v":18.5},{"i":6,"j":27,"v":18.7},{"i":7,"j":27,"v":19},{"i":8,"j":27,"v":19.3},{"i":9,"j":27,"v":19.6},{"i":10,"j":27,"v":19.9},{"i":11,"j":27,"v":20.2},{"i":12,"j":27,"v":20.5},{"i":13,"j":27,"v":20.9},{"i":14,"j":27,"v":21.2},{"i":15,"j":27,"v":21.5},{"i":16,"j":27,"v":21.9},{"i":17,"j":27,"v":22.2},{"i":18,"j":27,"v":22.5},{"i":19,"j":27,"v":22.8},{"i":20,"j":27,"v":23.1},{"i":21,"j":27,"v":23.4},{"i":22,"j":27,"v":23.7},{"i":23,"j":27,"v":24.5},{"i":24,"j":27,"v":25.2},{"i":25,"j":27,"v":26},{"i":26,"j":27,"v":26.7},{"i":27,"j":27,"v":27.5},{"i":28,"j":27,"v":28.2},{"i":29,"j":27,"v":29},{"i":30,"j":27,"v":29.7},{"i":31,"j":27,"v":31},{"i":32,"j":27,"v":31},{"i":33,"j":27,"v":31},{"i":34,"j":27,"v":31},{"i":35,"j":27,"v":31},{"i":36,"j":27,"v":31},{"i":37,"j":27,"v":31},{"i":38,"j":27,"v":31},{"i":39,"j":27,"v":31},{"i":40,"j":27,"v":31},{"i":41,"j":27,"v":31},{"i":42,"j":27,"v":31},{"i":43,"j":27,"v":31},{"i":44,"j":27,"v":31},{"i":45,"j":27,"v":31},{"i":46,"j":27,"v":31},{"i":47,"j":27,"v":31},{"i":48,"j":27,"v":31},
{"i":0,"j":26,"v":17.5},{"i":1,"j":26,"v":17.6},{"i":2,"j":26,"v":17.8},{"i":3,"j":26,"v":18},{"i":4,"j":26,"v":18.2},{"i":5,"j":26,"v":18.5},{"i":6,"j":26,"v":18.7},{"i":7,"j":26,"v":19},{"i":8,"j":26,"v":19.3},{"i":9,"j":26,"v":19.6},{"i":10,"j":26,"v":19.9},{"i":11,"j":26,"v":20.2},{"i":12,"j":26,"v":20.5},{"i":13,"j":26,"v":20.9},{"i":14,"j":26,"v":21.2},{"i":15,"j":26,"v":21.5},{"i":16,"j":26,"v":21.9},{"i":17,"j":26,"v":22.2},{"i":18,"j":26,"v":22.5},{"i":19,"j":26,"v":22.8},{"i":20,"j":26,"v":23.1},{"i":21,"j":26,"v":23.4},{"i":22,"j":26,"v":23.7},{"i":23,"j":26,"v":24.5},{"i":24,"j":26,"v":25.2},{"i":25,"j":26,"v":26},{"i":26,"j":26,"v":26.7},{"i":27,"j":26,"v":27.5},{"i":28,"j":26,"v":28.2},{"i":29,"j":26,"v":29},{"i":30,"j":26,"v":29.7},{"i":31,"j":26,"v":31},{"i":32,"j":26,"v":31},{"i":33,"j":26,"v":31},{"i":34,"j":26,"v":31},{"i":35,"j":26,"v":31},{"i":36,"j":26,"v":31},{"i":37,"j":26,"v":31},{"i":38,"j":26,"v":31},{"i":39,"j":26,"v":31},{"i":40,"j":26,"v":31},{"i":41,"j":26,"v":31},{"i":42,"j":26,"v":31},{"i":43,"j":26,"v":31},{"i":44,"j":26,"v":31},{"i":45,"j":26,"v":31},{"i":46,"j":26,"v":31},{"i":47,"j":26,"v":31},{"i":48,"j":26,"v":31},
{"i":0,"j":25,"v":17.5},{"i":1,"j":25,"v":17.6},{"i":2,"j":25,"v":17.8},{"i":3,"j":25,"v":18},{"i":4,"j":25,"v":18.2},{"i":5,"j":25,"v":18.5},{"i":6,"j":25,"v":18.7},{"i":7,"j":25,"v":19},{"i":8,"j":25,"v":19.3},{"i":9,"j":25,"v":19.6},{"i":10,"j":25,"v":19.9},{"i":11,"j":25,"v":20.2},{"i":12,"j":25,"v":20.5},{"i":13,"j":25,"v":20.9},{"i":14,"j":25,"v":21.2},{"i":15,"j":25,"v":21.5},{"i":16,"j":25,"v":21.9},{"i":17,"j":25,"v":22.2},{"i":18,"j":25,"v":22.5},{"i":19,"j":25,"v":22.8},{"i":20,"j":25,"v":23.1},{"i":21,"j":25,"v":23.4},{"i":22,"j":25,"v":23.7},{"i":23,"j":25,"v":24.5},{"i":24,"j":25,"v":25.2},{"i":25,"j":25,"v":26},{"i":26,"j":25,"v":26.7},{"i":27,"j":25,"v":27.5},{"i":28,"j":25,"v":28.2},{"i":29,"j":25,"v":29},{"i":30,"j":25,"v":29.7},{"i":31,"j":25,"v":31},{"i":32,"j":25,"v":31},{"i":33,"j":25,"v":31},{"i":34,"j":25,"v":31},{"i":35,"j":25,"v":31},{"i":36,"j":25,"v":31},{"i":37,"j":25,"v":31},{"i":38,"j":25,"v":31},{"i":39,"j":25,"v":31},{"i":40,"j":25,"v":31},{"i":41,"j":25,"v":31},{"i":42,"j":25,"v":31},{"i":43,"j":25,"v":31},{"i":44,"j":25,"v":31},{"i":45,"j":25,"v":31},{"i":46,"j":25,"v":31},{"i":47,"j":25,"v":31},{"i":48,"j":25,"v":31},
{"i":0,"j":24,"v":17.7},{"i":1,"j":24,"v":17.8},{"i":2,"j":24,"v":18},{"i":3,"j":24,"v":18.2},{"i":4,"j":24,"v":18.4},{"i":5,"j":24,"v":18.6},{"i":6,"j":24,"v":18.9},{"i":7,"j":24,"v":19.1},{"i":8,"j":24,"v":19.4},{"i":9,"j":24,"v":19.7},{"i":10,"j":24,"v":20},{"i":11,"j":24,"v":20.3},{"i":12,"j":24,"v":20.6},{"i":13,"j":24,"v":20.9},{"i":14,"j":24,"v":21.2},{"i":15,"j":24,"v":21.6},{"i":16,"j":24,"v":21.9},{"i":17,"j":24,"v":22.2},{"i":18,"j":24,"v":22.5},{"i":19,"j":24,"v":22.8},{"i":20,"j":24,"v":23.1},{"i":21,"j":24,"v":23.4},{"i":22,"j":24,"v":23.7},{"i":23,"j":24,"v":24.5},{"i":24,"j":24,"v":25.2},{"i":25,"j":24,"v":26},{"i":26,"j":24,"v":26.7},{"i":27,"j":24,"v":27.5},{"i":28,"j":24,"v":28.2},{"i":29,"j":24,"v":29},{"i":30,"j":24,"v":29.7},{"i":31,"j":24,"v":31},{"i":32,"j":24,"v":31},{"i":33,"j":24,"v":31},{"i":34,"j":24,"v":31},{"i":35,"j":24,"v":31},{"i":36,"j":24,"v":31},{"i":37,"j":24,"v":31},{"i":38,"j":24,"v":31},{"i":39,"j":24,"v":31},{"i":40,"j":24,"v":31},{"i":41,"j":24,"v":31},{"i":42,"j":24,"v":31},{"i":43,"j":24,"v":31},{"i":44,"j":24,"v":31},{"i":45,"j":24,"v":31},{"i":46,"j":24,"v":31},{"i":47,"j":24,"v":31},{"i":48,"j":24,"v":31},
{"i":0,"j":23,"v":17.7},{"i":1,"j":23,"v":17.8},{"i":2,"j":23,"v":18},{"i":3,"j":23,"v":18.2},{"i":4,"j":23,"v":18.4},{"i":5,"j":23,"v":18.6},{"i":6,"j":23,"v":18.9},{"i":7,"j":23,"v":19.1},{"i":8,"j":23,"v":19.4},{"i":9,"j":23,"v":19.7},{"i":10,"j":23,"v":20},{"i":11,"j":23,"v":20.3},{"i":12,"j":23,"v":20.6},{"i":13,"j":23,"v":20.9},{"i":14,"j":23,"v":21.2},{"i":15,"j":23,"v":21.6},{"i":16,"j":23,"v":21.9},{"i":17,"j":23,"v":22.2},{"i":18,"j":23,"v":22.5},{"i":19,"j":23,"v":22.8},{"i":20,"j":23,"v":23.1},{"i":21,"j":23,"v":23.4},{"i":22,"j":23,"v":23.7},{"i":23,"j":23,"v":24.5},{"i":24,"j":23,"v":25.2},{"i":25,"j":23,"v":26},{"i":26,"j":23,"v":26.7},{"i":27,"j":23,"v":27.5},{"i":28,"j":23,"v":28.2},{"i":29,"j":23,"v":29},{"i":30,"j":23,"v":29.7},{"i":31,"j":23,"v":31},{"i":32,"j":23,"v":31},{"i":33,"j":23,"v":31},{"i":34,"j":23,"v":31},{"i":35,"j":23,"v":31},{"i":36,"j":23,"v":31},{"i":37,"j":23,"v":31},{"i":38,"j":23,"v":31},{"i":39,"j":23,"v":31},{"i":40,"j":23,"v":31},{"i":41,"j":23,"v":31},{"i":42,"j":23,"v":31},{"i":43,"j":23,"v":31},{"i":44,"j":23,"v":31},{"i":45,"j":23,"v":31},{"i":46,"j":23,"v":31},{"i":47,"j":23,"v":31},{"i":48,"j":23,"v":31},
{"i":0,"j":22,"v":17.7},{"i":1,"j":22,"v":17.8},{"i":2,"j":22,"v":18},{"i":3,"j":22,"v":18.2},{"i":4,"j":22,"v":18.4},{"i":5,"j":22,"v":18.6},{"i":6,"j":22,"v":18.9},{"i":7,"j":22,"v":19.1},{"i":8,"j":22,"v":19.4},{"i":9,"j":22,"v":19.7},{"i":10,"j":22,"v":20},{"i":11,"j":22,"v":20.3},{"i":12,"j":22,"v":20.6},{"i":13,"j":22,"v":20.9},{"i":14,"j":22,"v":21.2},{"i":15,"j":22,"v":21.6},{"i":16,"j":22,"v":21.9},{"i":17,"j":22,"v":22.2},{"i":18,"j":22,"v":22.5},{"i":19,"j":22,"v":22.8},{"i":20,"j":22,"v":23.1},{"i":21,"j":22,"v":23.4},{"i":22,"j":22,"v":23.7},{"i":23,"j":22,"v":24.5},{"i":24,"j":22,"v":25.2},{"i":25,"j":22,"v":26},{"i":26,"j":22,"v":26.7},{"i":27,"j":22,"v":27.5},{"i":28,"j":22,"v":28.2},{"i":29,"j":22,"v":29},{"i":30,"j":22,"v":29.7},{"i":31,"j":22,"v":31},{"i":32,"j":22,"v":31},{"i":33,"j":22,"v":31},{"i":34,"j":22,"v":31},{"i":35,"j":22,"v":31},{"i":36,"j":22,"v":31},{"i":37,"j":22,"v":31},{"i":38,"j":22,"v":31},{"i":39,"j":22,"v":31},{"i":40,"j":22,"v":31},{"i":41,"j":22,"v":31},{"i":42,"j":22,"v":31},{"i":43,"j":22,"v":31},{"i":44,"j":22,"v":31},{"i":45,"j":22,"v":31},{"i":46,"j":22,"v":31},{"i":47,"j":22,"v":31},{"i":48,"j":22,"v":31},
{"i":0,"j":21,"v":17.7},{"i":1,"j":21,"v":17.8},{"i":2,"j":21,"v":18},{"i":3,"j":21,"v":18.2},{"i":4,"j":21,"v":18.4},{"i":5,"j":21,"v":18.6},{"i":6,"j":21,"v":18.9},{"i":7,"j":21,"v":19.1},{"i":8,"j":21,"v":19.4},{"i":9,"j":21,"v":19.7},{"i":10,"j":21,"v":20},{"i":11,"j":21,"v":20.3},{"i":12,"j":21,"v":20.6},{"i":13,"j":21,"v":20.9},{"i":14,"j":21,"v":21.2},{"i":15,"j":21,"v":21.6},{"i":16,"j":21,"v":21.9},{"i":17,"j":21,"v":22.2},{"i":18,"j":21,"v":22.5},{"i":19,"j":21,"v":22.8},{"i":20,"j":21,"v":23.1},{"i":21,"j":21,"v":23.4},{"i":22,"j":21,"v":23.7},{"i":23,"j":21,"v":24.5},{"i":24,"j":21,"v":25.2},{"i":25,"j":21,"v":26},{"i":26,"j":21,"v":26.7},{"i":27,"j":21,"v":27.5},{"i":28,"j":21,"v":28.2},{"i":29,"j":21,"v":29},{"i":30,"j":21,"v":29.7},{"i":31,"j":21,"v":31},{"i":32,"j":21,"v":31},{"i":33,"j":21,"v":31},{"i":34,"j":21,"v":31},{"i":35,"j":21,"v":31},{"i":36,"j":21,"v":31},{"i":37,"j":21,"v":31},{"i":38,"j":21,"v":31},{"i":39,"j":21,"v":31},{"i":40,"j":21,"v":31},{"i":41,"j":21,"v":31},{"i":42,"j":21,"v":31},{"i":43,"j":21,"v":31},{"i":44,"j":21,"v":31},{"i":45,"j":21,"v":31},{"i":46,"j":21,"v":31},{"i":47,"j":21,"v":31},{"i":48,"j":21,"v":31},
{"i":0,"j":20,"v":18.3},{"i":1,"j":20,"v":18.4},{"i":2,"j":20,"v":18.5},{"i":3,"j":20,"v":18.7},{"i":4,"j":20,"v":18.9},{"i":5,"j":20,"v":19.1},{"i":6,"j":20,"v":19.3},{"i":7,"j":20,"v":19.5},{"i":8,"j":20,"v":19.8},{"i":9,"j":20,"v":20},{"i":10,"j":20,"v":20.3},{"i":11,"j":20,"v":20.5},{"i":12,"j":20,"v":20.8},{"i":13,"j":20,"v":21},{"i":14,"j":20,"v":21.3},{"i":15,"j":20,"v":21.6},{"i":16,"j":20,"v":21.9},{"i":17,"j":20,"v":22.2},{"i":18,"j":20,"v":22.5},{"i":19,"j":20,"v":22.8},{"i":20,"j":20,"v":23.1},{"i":21,"j":20,"v":23.4},{"i":22,"j":20,"v":23.7},{"i":23,"j":20,"v":24.5},{"i":24,"j":20,"v":25.2},{"i":25,"j":20,"v":26},{"i":26,"j":20,"v":26.7},{"i":27,"j":20,"v":27.5},{"i":28,"j":20,"v":28.2},{"i":29,"j":20,"v":29},{"i":30,"j":20,"v":29.7},{"i":31,"j":20,"v":31},{"i":32,"j":20,"v":31},{"i":33,"j":20,"v":31},{"i":34,"j":20,"v":31},{"i":35,"j":20,"v":31},{"i":36,"j":20,"v":31},{"i":37,"j":20,"v":31},{"i":38,"j":20,"v":31},{"i":39,"j":20,"v":31},{"i":40,"j":20,"v":31},{"i":41,"j":20,"v":31},{"i":42,"j":20,"v":31},{"i":43,"j":20,"v":31},{"i":44,"j":20,"v":31},{"i":45,"j":20,"v":31},{"i":46,"j":20,"v":31},{"i":47,"j":20,"v":31},{"i":48,"j":20,"v":31},
{"i":0,"j":19,"v":18.35},{"i":1,"j":19,"v":18.4},{"i":2,"j":19,"v":18.6},{"i":3,"j":19,"v":18.7},{"i":4,"j":19,"v":18.9},{"i":5,"j":19,"v":19.1},{"i":6,"j":19,"v":19.3},{"i":7,"j":19,"v":19.5},{"i":8,"j":19,"v":19.7},{"i":9,"j":19,"v":19.9},{"i":10,"j":19,"v":20.1},{"i":11,"j":19,"v":20.4},{"i":12,"j":19,"v":20.6},{"i":13,"j":19,"v":20.9},{"i":14,"j":19,"v":21.1},{"i":15,"j":19,"v":21.4},{"i":16,"j":19,"v":21.6},{"i":17,"j":19,"v":21.9},{"i":18,"j":19,"v":22.2},{"i":19,"j":19,"v":22.5},{"i":20,"j":19,"v":22.8},{"i":21,"j":19,"v":23.1},{"i":22,"j":19,"v":23.4},{"i":23,"j":19,"v":23.7},{"i":24,"j":19,"v":24.5},{"i":25,"j":19,"v":25.2},{"i":26,"j":19,"v":26},{"i":27,"j":19,"v":26.7},{"i":28,"j":19,"v":27.5},{"i":29,"j":19,"v":28.2},{"i":30,"j":19,"v":29},{"i":31,"j":19,"v":29.7},{"i":32,"j":19,"v":31},{"i":33,"j":19,"v":31},{"i":34,"j":19,"v":31},{"i":35,"j":19,"v":31},{"i":36,"j":19,"v":31},{"i":37,"j":19,"v":31},{"i":38,"j":19,"v":31},{"i":39,"j":19,"v":31},{"i":40,"j":19,"v":31},{"i":41,"j":19,"v":31},{"i":42,"j":19,"v":31},{"i":43,"j":19,"v":31},{"i":44,"j":19,"v":31},{"i":45,"j":19,"v":31},{"i":46,"j":19,"v":31},{"i":47,"j":19,"v":31},{"i":48,"j":19,"v":31},
{"i":0,"j":18,"v":18.4},{"i":1,"j":18,"v":18.5},{"i":2,"j":18,"v":18.6},{"i":3,"j":18,"v":18.8},{"i":4,"j":18,"v":18.9},{"i":5,"j":18,"v":19.1},{"i":6,"j":18,"v":19.3},{"i":7,"j":18,"v":19.5},{"i":8,"j":18,"v":19.7},{"i":9,"j":18,"v":19.9},{"i":10,"j":18,"v":20.2},{"i":11,"j":18,"v":20.4},{"i":12,"j":18,"v":20.6},{"i":13,"j":18,"v":20.9},{"i":14,"j":18,"v":21.1},{"i":15,"j":18,"v":21.4},{"i":16,"j":18,"v":21.6},{"i":17,"j":18,"v":21.9},{"i":18,"j":18,"v":22.2},{"i":19,"j":18,"v":22.5},{"i":20,"j":18,"v":22.8},{"i":21,"j":18,"v":23.1},{"i":22,"j":18,"v":23.4},{"i":23,"j":18,"v":23.7},{"i":24,"j":18,"v":24.5},{"i":25,"j":18,"v":25.2},{"i":26,"j":18,"v":26},{"i":27,"j":18,"v":26.7},{"i":28,"j":18,"v":27.5},{"i":29,"j":18,"v":28.2},{"i":30,"j":18,"v":29},{"i":31,"j":18,"v":29.7},{"i":32,"j":18,"v":31},{"i":33,"j":18,"v":31},{"i":34,"j":18,"v":31},{"i":35,"j":18,"v":31},{"i":36,"j":18,"v":31},{"i":37,"j":18,"v":31},{"i":38,"j":18,"v":31},{"i":39,"j":18,"v":31},{"i":40,"j":18,"v":31},{"i":41,"j":18,"v":31},{"i":42,"j":18,"v":31},{"i":43,"j":18,"v":31},{"i":44,"j":18,"v":31},{"i":45,"j":18,"v":31},{"i":46,"j":18,"v":31},{"i":47,"j":18,"v":31},{"i":48,"j":18,"v":31},
{"i":0,"j":17,"v":18.45},{"i":1,"j":17,"v":18.5},{"i":2,"j":17,"v":18.7},{"i":3,"j":17,"v":18.8},{"i":4,"j":17,"v":19},{"i":5,"j":17,"v":19.2},{"i":6,"j":17,"v":19.3},{"i":7,"j":17,"v":19.5},{"i":8,"j":17,"v":19.7},{"i":9,"j":17,"v":20},{"i":10,"j":17,"v":20.2},{"i":11,"j":17,"v":20.4},{"i":12,"j":17,"v":20.6},{"i":13,"j":17,"v":20.9},{"i":14,"j":17,"v":21.1},{"i":15,"j":17,"v":21.4},{"i":16,"j":17,"v":21.6},{"i":17,"j":17,"v":21.9},{"i":18,"j":17,"v":22.2},{"i":19,"j":17,"v":22.5},{"i":20,"j":17,"v":22.8},{"i":21,"j":17,"v":23.1},{"i":22,"j":17,"v":23.4},{"i":23,"j":17,"v":23.7},{"i":24,"j":17,"v":24.5},{"i":25,"j":17,"v":25.2},{"i":26,"j":17,"v":26},{"i":27,"j":17,"v":26.7},{"i":28,"j":17,"v":27.5},{"i":29,"j":17,"v":28.2},{"i":30,"j":17,"v":29},{"i":31,"j":17,"v":29.7},{"i":32,"j":17,"v":31},{"i":33,"j":17,"v":31},{"i":34,"j":17,"v":31},{"i":35,"j":17,"v":31},{"i":36,"j":17,"v":31},{"i":37,"j":17,"v":31},{"i":38,"j":17,"v":31},{"i":39,"j":17,"v":31},{"i":40,"j":17,"v":31},{"i":41,"j":17,"v":31},{"i":42,"j":17,"v":31},{"i":43,"j":17,"v":31},{"i":44,"j":17,"v":31},{"i":45,"j":17,"v":31},{"i":46,"j":17,"v":31},{"i":47,"j":17,"v":31},{"i":48,"j":17,"v":31},
{"i":0,"j":16,"v":18.45},{"i":1,"j":16,"v":18.5},{"i":2,"j":16,"v":18.7},{"i":3,"j":16,"v":18.8},{"i":4,"j":16,"v":19},{"i":5,"j":16,"v":19.2},{"i":6,"j":16,"v":19.3},{"i":7,"j":16,"v":19.5},{"i":8,"j":16,"v":19.7},{"i":9,"j":16,"v":20},{"i":10,"j":16,"v":20.2},{"i":11,"j":16,"v":20.4},{"i":12,"j":16,"v":20.6},{"i":13,"j":16,"v":20.9},{"i":14,"j":16,"v":21.1},{"i":15,"j":16,"v":21.4},{"i":16,"j":16,"v":21.6},{"i":17,"j":16,"v":21.9},{"i":18,"j":16,"v":22.2},{"i":19,"j":16,"v":22.5},{"i":20,"j":16,"v":22.8},{"i":21,"j":16,"v":23.1},{"i":22,"j":16,"v":23.4},{"i":23,"j":16,"v":23.7},{"i":24,"j":16,"v":24.5},{"i":25,"j":16,"v":25.2},{"i":26,"j":16,"v":26},{"i":27,"j":16,"v":26.7},{"i":28,"j":16,"v":27.5},{"i":29,"j":16,"v":28.2},{"i":30,"j":16,"v":29},{"i":31,"j":16,"v":29.7},{"i":32,"j":16,"v":31},{"i":33,"j":16,"v":31},{"i":34,"j":16,"v":31},{"i":35,"j":16,"v":31},{"i":36,"j":16,"v":31},{"i":37,"j":16,"v":31},{"i":38,"j":16,"v":31},{"i":39,"j":16,"v":31},{"i":40,"j":16,"v":31},{"i":41,"j":16,"v":31},{"i":42,"j":16,"v":31},{"i":43,"j":16,"v":31},{"i":44,"j":16,"v":31},{"i":45,"j":16,"v":31},{"i":46,"j":16,"v":31},{"i":47,"j":16,"v":31},{"i":48,"j":16,"v":31},
{"i":0,"j":15,"v":18.5},{"i":1,"j":15,"v":18.6},{"i":2,"j":15,"v":18.7},{"i":3,"j":15,"v":18.9},{"i":4,"j":15,"v":19},{"i":5,"j":15,"v":19.2},{"i":6,"j":15,"v":19.4},{"i":7,"j":15,"v":19.6},{"i":8,"j":15,"v":19.8},{"i":9,"j":15,"v":20},{"i":10,"j":15,"v":20.2},{"i":11,"j":15,"v":20.4},{"i":12,"j":15,"v":20.7},{"i":13,"j":15,"v":20.9},{"i":14,"j":15,"v":21.1},{"i":15,"j":15,"v":21.4},{"i":16,"j":15,"v":21.6},{"i":17,"j":15,"v":21.9},{"i":18,"j":15,"v":22.2},{"i":19,"j":15,"v":22.5},{"i":20,"j":15,"v":22.8},{"i":21,"j":15,"v":23.1},{"i":22,"j":15,"v":23.4},{"i":23,"j":15,"v":23.7},{"i":24,"j":15,"v":24.5},{"i":25,"j":15,"v":25.2},{"i":26,"j":15,"v":26},{"i":27,"j":15,"v":26.7},{"i":28,"j":15,"v":27.5},{"i":29,"j":15,"v":28.2},{"i":30,"j":15,"v":29},{"i":31,"j":15,"v":29.7},{"i":32,"j":15,"v":31},{"i":33,"j":15,"v":31},{"i":34,"j":15,"v":31},{"i":35,"j":15,"v":31},{"i":36,"j":15,"v":31},{"i":37,"j":15,"v":31},{"i":38,"j":15,"v":31},{"i":39,"j":15,"v":31},{"i":40,"j":15,"v":31},{"i":41,"j":15,"v":31},{"i":42,"j":15,"v":31},{"i":43,"j":15,"v":31},{"i":44,"j":15,"v":31},{"i":45,"j":15,"v":31},{"i":46,"j":15,"v":31},{"i":47,"j":15,"v":31},{"i":48,"j":15,"v":31},
{"i":0,"j":14,"v":18.55},{"i":1,"j":14,"v":18.6},{"i":2,"j":14,"v":18.8},{"i":3,"j":14,"v":18.9},{"i":4,"j":14,"v":19.1},{"i":5,"j":14,"v":19.2},{"i":6,"j":14,"v":19.4},{"i":7,"j":14,"v":19.6},{"i":8,"j":14,"v":19.8},{"i":9,"j":14,"v":20},{"i":10,"j":14,"v":20.2},{"i":11,"j":14,"v":20.5},{"i":12,"j":14,"v":20.7},{"i":13,"j":14,"v":20.9},{"i":14,"j":14,"v":21.2},{"i":15,"j":14,"v":21.4},{"i":16,"j":14,"v":21.6},{"i":17,"j":14,"v":21.9},{"i":18,"j":14,"v":22.2},{"i":19,"j":14,"v":22.5},{"i":20,"j":14,"v":22.8},{"i":21,"j":14,"v":23.1},{"i":22,"j":14,"v":23.4},{"i":23,"j":14,"v":23.7},{"i":24,"j":14,"v":24.5},{"i":25,"j":14,"v":25.2},{"i":26,"j":14,"v":26},{"i":27,"j":14,"v":26.7},{"i":28,"j":14,"v":27.5},{"i":29,"j":14,"v":28.2},{"i":30,"j":14,"v":29},{"i":31,"j":14,"v":29.7},{"i":32,"j":14,"v":31},{"i":33,"j":14,"v":31},{"i":34,"j":14,"v":31},{"i":35,"j":14,"v":31},{"i":36,"j":14,"v":31},{"i":37,"j":14,"v":31},{"i":38,"j":14,"v":31},{"i":39,"j":14,"v":31},{"i":40,"j":14,"v":31},{"i":41,"j":14,"v":31},{"i":42,"j":14,"v":31},{"i":43,"j":14,"v":31},{"i":44,"j":14,"v":31},{"i":45,"j":14,"v":31},{"i":46,"j":14,"v":31},{"i":47,"j":14,"v":31},{"i":48,"j":14,"v":31},
{"i":0,"j":13,"v":18.55},{"i":1,"j":13,"v":18.6},{"i":2,"j":13,"v":18.8},{"i":3,"j":13,"v":18.9},{"i":4,"j":13,"v":19.1},{"i":5,"j":13,"v":19.2},{"i":6,"j":13,"v":19.4},{"i":7,"j":13,"v":19.6},{"i":8,"j":13,"v":19.8},{"i":9,"j":13,"v":20},{"i":10,"j":13,"v":20.2},{"i":11,"j":13,"v":20.5},{"i":12,"j":13,"v":20.7},{"i":13,"j":13,"v":20.9},{"i":14,"j":13,"v":21.2},{"i":15,"j":13,"v":21.4},{"i":16,"j":13,"v":21.6},{"i":17,"j":13,"v":21.9},{"i":18,"j":13,"v":22.2},{"i":19,"j":13,"v":22.5},{"i":20,"j":13,"v":22.8},{"i":21,"j":13,"v":23.1},{"i":22,"j":13,"v":23.4},{"i":23,"j":13,"v":23.7},{"i":24,"j":13,"v":24.5},{"i":25,"j":13,"v":25.2},{"i":26,"j":13,"v":26},{"i":27,"j":13,"v":26.7},{"i":28,"j":13,"v":27.5},{"i":29,"j":13,"v":28.2},{"i":30,"j":13,"v":29},{"i":31,"j":13,"v":29.7},{"i":32,"j":13,"v":31},{"i":33,"j":13,"v":31},{"i":34,"j":13,"v":31},{"i":35,"j":13,"v":31},{"i":36,"j":13,"v":31},{"i":37,"j":13,"v":31},{"i":38,"j":13,"v":31},{"i":39,"j":13,"v":31},{"i":40,"j":13,"v":31},{"i":41,"j":13,"v":31},{"i":42,"j":13,"v":31},{"i":43,"j":13,"v":31},{"i":44,"j":13,"v":31},{"i":45,"j":13,"v":31},{"i":46,"j":13,"v":31},{"i":47,"j":13,"v":31},{"i":48,"j":13,"v":31},
{"i":0,"j":12,"v":18.6},{"i":1,"j":12,"v":18.7},{"i":2,"j":12,"v":18.8},{"i":3,"j":12,"v":18.9},{"i":4,"j":12,"v":19.1},{"i":5,"j":12,"v":19.3},{"i":6,"j":12,"v":19.5},{"i":7,"j":12,"v":19.6},{"i":8,"j":12,"v":19.8},{"i":9,"j":12,"v":20},{"i":10,"j":12,"v":20.3},{"i":11,"j":12,"v":20.5},{"i":12,"j":12,"v":20.7},{"i":13,"j":12,"v":20.9},{"i":14,"j":12,"v":21.2},{"i":15,"j":12,"v":21.4},{"i":16,"j":12,"v":21.6},{"i":17,"j":12,"v":21.9},{"i":18,"j":12,"v":22.2},{"i":19,"j":12,"v":22.5},{"i":20,"j":12,"v":22.8},{"i":21,"j":12,"v":23.1},{"i":22,"j":12,"v":23.4},{"i":23,"j":12,"v":23.7},{"i":24,"j":12,"v":24.5},{"i":25,"j":12,"v":25.2},{"i":26,"j":12,"v":26},{"i":27,"j":12,"v":26.7},{"i":28,"j":12,"v":27.5},{"i":29,"j":12,"v":28.2},{"i":30,"j":12,"v":29},{"i":31,"j":12,"v":29.7},{"i":32,"j":12,"v":31},{"i":33,"j":12,"v":31},{"i":34,"j":12,"v":31},{"i":35,"j":12,"v":31},{"i":36,"j":12,"v":31},{"i":37,"j":12,"v":31},{"i":38,"j":12,"v":31},{"i":39,"j":12,"v":31},{"i":40,"j":12,"v":31},{"i":41,"j":12,"v":31},{"i":42,"j":12,"v":31},{"i":43,"j":12,"v":31},{"i":44,"j":12,"v":31},{"i":45,"j":12,"v":31},{"i":46,"j":12,"v":31},{"i":47,"j":12,"v":31},{"i":48,"j":12,"v":31},
{"i":0,"j":11,"v":18.6},{"i":1,"j":11,"v":18.7},{"i":2,"j":11,"v":18.8},{"i":3,"j":11,"v":18.9},{"i":4,"j":11,"v":19.1},{"i":5,"j":11,"v":19.3},{"i":6,"j":11,"v":19.5},{"i":7,"j":11,"v":19.6},{"i":8,"j":11,"v":19.8},{"i":9,"j":11,"v":20},{"i":10,"j":11,"v":20.3},{"i":11,"j":11,"v":20.5},{"i":12,"j":11,"v":20.7},{"i":13,"j":11,"v":20.9},{"i":14,"j":11,"v":21.2},{"i":15,"j":11,"v":21.4},{"i":16,"j":11,"v":21.6},{"i":17,"j":11,"v":21.9},{"i":18,"j":11,"v":22.2},{"i":19,"j":11,"v":22.5},{"i":20,"j":11,"v":22.8},{"i":21,"j":11,"v":23.1},{"i":22,"j":11,"v":23.4},{"i":23,"j":11,"v":23.7},{"i":24,"j":11,"v":24.5},{"i":25,"j":11,"v":25.2},{"i":26,"j":11,"v":26},{"i":27,"j":11,"v":26.7},{"i":28,"j":11,"v":27.5},{"i":29,"j":11,"v":28.2},{"i":30,"j":11,"v":29},{"i":31,"j":11,"v":29.7},{"i":32,"j":11,"v":31},{"i":33,"j":11,"v":31},{"i":34,"j":11,"v":31},{"i":35,"j":11,"v":31},{"i":36,"j":11,"v":31},{"i":37,"j":11,"v":31},{"i":38,"j":11,"v":31},{"i":39,"j":11,"v":31},{"i":40,"j":11,"v":31},{"i":41,"j":11,"v":31},{"i":42,"j":11,"v":31},{"i":43,"j":11,"v":31},{"i":44,"j":11,"v":31},{"i":45,"j":11,"v":31},{"i":46,"j":11,"v":31},{"i":47,"j":11,"v":31},{"i":48,"j":11,"v":31},
{"i":0,"j":10,"v":18.6},{"i":1,"j":10,"v":18.7},{"i":2,"j":10,"v":18.8},{"i":3,"j":10,"v":18.9},{"i":4,"j":10,"v":19.1},{"i":5,"j":10,"v":19.3},{"i":6,"j":10,"v":19.5},{"i":7,"j":10,"v":19.6},{"i":8,"j":10,"v":19.8},{"i":9,"j":10,"v":20},{"i":10,"j":10,"v":20.3},{"i":11,"j":10,"v":20.5},{"i":12,"j":10,"v":20.7},{"i":13,"j":10,"v":20.9},{"i":14,"j":10,"v":21.2},{"i":15,"j":10,"v":21.4},{"i":16,"j":10,"v":21.6},{"i":17,"j":10,"v":21.9},{"i":18,"j":10,"v":22.2},{"i":19,"j":10,"v":22.5},{"i":20,"j":10,"v":22.8},{"i":21,"j":10,"v":23.1},{"i":22,"j":10,"v":23.4},{"i":23,"j":10,"v":23.7},{"i":24,"j":10,"v":24.5},{"i":25,"j":10,"v":25.2},{"i":26,"j":10,"v":26},{"i":27,"j":10,"v":26.7},{"i":28,"j":10,"v":27.5},{"i":29,"j":10,"v":28.2},{"i":30,"j":10,"v":29},{"i":31,"j":10,"v":29.7},{"i":32,"j":10,"v":31},{"i":33,"j":10,"v":31},{"i":34,"j":10,"v":31},{"i":35,"j":10,"v":31},{"i":36,"j":10,"v":31},{"i":37,"j":10,"v":31},{"i":38,"j":10,"v":31},{"i":39,"j":10,"v":31},{"i":40,"j":10,"v":31},{"i":41,"j":10,"v":31},{"i":42,"j":10,"v":31},{"i":43,"j":10,"v":31},{"i":44,"j":10,"v":31},{"i":45,"j":10,"v":31},{"i":46,"j":10,"v":31},{"i":47,"j":10,"v":31},{"i":48,"j":10,"v":31},
{"i":0,"j":9,"v":18.65},{"i":1,"j":9,"v":18.7},{"i":2,"j":9,"v":18.9},{"i":3,"j":9,"v":19},{"i":4,"j":9,"v":19.1},{"i":5,"j":9,"v":19.3},{"i":6,"j":9,"v":19.5},{"i":7,"j":9,"v":19.7},{"i":8,"j":9,"v":19.9},{"i":9,"j":9,"v":20.1},{"i":10,"j":9,"v":20.3},{"i":11,"j":9,"v":20.5},{"i":12,"j":9,"v":20.7},{"i":13,"j":9,"v":20.9},{"i":14,"j":9,"v":21.2},{"i":15,"j":9,"v":21.4},{"i":16,"j":9,"v":21.7},{"i":17,"j":9,"v":21.9},{"i":18,"j":9,"v":22.2},{"i":19,"j":9,"v":22.5},{"i":20,"j":9,"v":22.8},{"i":21,"j":9,"v":23.1},{"i":22,"j":9,"v":23.4},{"i":23,"j":9,"v":23.7},{"i":24,"j":9,"v":24.5},{"i":25,"j":9,"v":25.2},{"i":26,"j":9,"v":26},{"i":27,"j":9,"v":26.7},{"i":28,"j":9,"v":27.5},{"i":29,"j":9,"v":28.2},{"i":30,"j":9,"v":29},{"i":31,"j":9,"v":29.7},{"i":32,"j":9,"v":31},{"i":33,"j":9,"v":31},{"i":34,"j":9,"v":31},{"i":35,"j":9,"v":31},{"i":36,"j":9,"v":31},{"i":37,"j":9,"v":31},{"i":38,"j":9,"v":31},{"i":39,"j":9,"v":31},{"i":40,"j":9,"v":31},{"i":41,"j":9,"v":31},{"i":42,"j":9,"v":31},{"i":43,"j":9,"v":31},{"i":44,"j":9,"v":31},{"i":45,"j":9,"v":31},{"i":46,"j":9,"v":31},{"i":47,"j":9,"v":31},{"i":48,"j":9,"v":31},
{"i":0,"j":8,"v":18.65},{"i":1,"j":8,"v":18.7},{"i":2,"j":8,"v":18.9},{"i":3,"j":8,"v":19},{"i":4,"j":8,"v":19.1},{"i":5,"j":8,"v":19.3},{"i":6,"j":8,"v":19.5},{"i":7,"j":8,"v":19.7},{"i":8,"j":8,"v":19.9},{"i":9,"j":8,"v":20.1},{"i":10,"j":8,"v":20.3},{"i":11,"j":8,"v":20.5},{"i":12,"j":8,"v":20.7},{"i":13,"j":8,"v":20.9},{"i":14,"j":8,"v":21.2},{"i":15,"j":8,"v":21.4},{"i":16,"j":8,"v":21.7},{"i":17,"j":8,"v":21.9},{"i":18,"j":8,"v":22.2},{"i":19,"j":8,"v":22.5},{"i":20,"j":8,"v":22.8},{"i":21,"j":8,"v":23.1},{"i":22,"j":8,"v":23.4},{"i":23,"j":8,"v":23.7},{"i":24,"j":8,"v":24.5},{"i":25,"j":8,"v":25.2},{"i":26,"j":8,"v":26},{"i":27,"j":8,"v":26.7},{"i":28,"j":8,"v":27.5},{"i":29,"j":8,"v":28.2},{"i":30,"j":8,"v":29},{"i":31,"j":8,"v":29.7},{"i":32,"j":8,"v":31},{"i":33,"j":8,"v":31},{"i":34,"j":8,"v":31},{"i":35,"j":8,"v":31},{"i":36,"j":8,"v":31},{"i":37,"j":8,"v":31},{"i":38,"j":8,"v":31},{"i":39,"j":8,"v":31},{"i":40,"j":8,"v":31},{"i":41,"j":8,"v":31},{"i":42,"j":8,"v":31},{"i":43,"j":8,"v":31},{"i":44,"j":8,"v":31},{"i":45,"j":8,"v":31},{"i":46,"j":8,"v":31},{"i":47,"j":8,"v":31},{"i":48,"j":8,"v":31},
{"i":0,"j":7,"v":18.7},{"i":1,"j":7,"v":18.8},{"i":2,"j":7,"v":18.9},{"i":3,"j":7,"v":19},{"i":4,"j":7,"v":19.2},{"i":5,"j":7,"v":19.4},{"i":6,"j":7,"v":19.5},{"i":7,"j":7,"v":19.7},{"i":8,"j":7,"v":19.9},{"i":9,"j":7,"v":20.1},{"i":10,"j":7,"v":20.3},{"i":11,"j":7,"v":20.5},{"i":12,"j":7,"v":20.7},{"i":13,"j":7,"v":21},{"i":14,"j":7,"v":21.2},{"i":15,"j":7,"v":21.4},{"i":16,"j":7,"v":21.7},{"i":17,"j":7,"v":21.9},{"i":18,"j":7,"v":22.2},{"i":19,"j":7,"v":22.5},{"i":20,"j":7,"v":22.8},{"i":21,"j":7,"v":23.1},{"i":22,"j":7,"v":23.4},{"i":23,"j":7,"v":23.7},{"i":24,"j":7,"v":24.5},{"i":25,"j":7,"v":25.2},{"i":26,"j":7,"v":26},{"i":27,"j":7,"v":26.7},{"i":28,"j":7,"v":27.5},{"i":29,"j":7,"v":28.2},{"i":30,"j":7,"v":29},{"i":31,"j":7,"v":29.7},{"i":32,"j":7,"v":31},{"i":33,"j":7,"v":31},{"i":34,"j":7,"v":31},{"i":35,"j":7,"v":31},{"i":36,"j":7,"v":31},{"i":37,"j":7,"v":31},{"i":38,"j":7,"v":31},{"i":39,"j":7,"v":31},{"i":40,"j":7,"v":31},{"i":41,"j":7,"v":31},{"i":42,"j":7,"v":31},{"i":43,"j":7,"v":31},{"i":44,"j":7,"v":31},{"i":45,"j":7,"v":31},{"i":46,"j":7,"v":31},{"i":47,"j":7,"v":31},{"i":48,"j":7,"v":31},
{"i":0,"j":6,"v":18.7},{"i":1,"j":6,"v":18.8},{"i":2,"j":6,"v":18.9},{"i":3,"j":6,"v":19},{"i":4,"j":6,"v":19.2},{"i":5,"j":6,"v":19.4},{"i":6,"j":6,"v":19.5},{"i":7,"j":6,"v":19.7},{"i":8,"j":6,"v":19.9},{"i":9,"j":6,"v":20.1},{"i":10,"j":6,"v":20.3},{"i":11,"j":6,"v":20.5},{"i":12,"j":6,"v":20.7},{"i":13,"j":6,"v":21},{"i":14,"j":6,"v":21.2},{"i":15,"j":6,"v":21.4},{"i":16,"j":6,"v":21.7},{"i":17,"j":6,"v":21.9},{"i":18,"j":6,"v":22.2},{"i":19,"j":6,"v":22.5},{"i":20,"j":6,"v":22.8},{"i":21,"j":6,"v":23.1},{"i":22,"j":6,"v":23.4},{"i":23,"j":6,"v":23.7},{"i":24,"j":6,"v":24.5},{"i":25,"j":6,"v":25.2},{"i":26,"j":6,"v":26},{"i":27,"j":6,"v":26.7},{"i":28,"j":6,"v":27.5},{"i":29,"j":6,"v":28.2},{"i":30,"j":6,"v":29},{"i":31,"j":6,"v":29.7},{"i":32,"j":6,"v":31},{"i":33,"j":6,"v":31},{"i":34,"j":6,"v":31},{"i":35,"j":6,"v":31},{"i":36,"j":6,"v":31},{"i":37,"j":6,"v":31},{"i":38,"j":6,"v":31},{"i":39,"j":6,"v":31},{"i":40,"j":6,"v":31},{"i":41,"j":6,"v":31},{"i":42,"j":6,"v":31},{"i":43,"j":6,"v":31},{"i":44,"j":6,"v":31},{"i":45,"j":6,"v":31},{"i":46,"j":6,"v":31},{"i":47,"j":6,"v":31},{"i":48,"j":6,"v":31},
{"i":0,"j":5,"v":18.7},{"i":1,"j":5,"v":18.8},{"i":2,"j":5,"v":18.9},{"i":3,"j":5,"v":19},{"i":4,"j":5,"v":19.2},{"i":5,"j":5,"v":19.4},{"i":6,"j":5,"v":19.5},{"i":7,"j":5,"v":19.7},{"i":8,"j":5,"v":19.9},{"i":9,"j":5,"v":20.1},{"i":10,"j":5,"v":20.3},{"i":11,"j":5,"v":20.5},{"i":12,"j":5,"v":20.7},{"i":13,"j":5,"v":21},{"i":14,"j":5,"v":21.2},{"i":15,"j":5,"v":21.4},{"i":16,"j":5,"v":21.7},{"i":17,"j":5,"v":21.9},{"i":18,"j":5,"v":22.2},{"i":19,"j":5,"v":22.5},{"i":20,"j":5,"v":22.8},{"i":21,"j":5,"v":23.1},{"i":22,"j":5,"v":23.4},{"i":23,"j":5,"v":23.7},{"i":24,"j":5,"v":24.5},{"i":25,"j":5,"v":25.2},{"i":26,"j":5,"v":26},{"i":27,"j":5,"v":26.7},{"i":28,"j":5,"v":27.5},{"i":29,"j":5,"v":28.2},{"i":30,"j":5,"v":29},{"i":31,"j":5,"v":29.7},{"i":32,"j":5,"v":31},{"i":33,"j":5,"v":31},{"i":34,"j":5,"v":31},{"i":35,"j":5,"v":31},{"i":36,"j":5,"v":31},{"i":37,"j":5,"v":31},{"i":38,"j":5,"v":31},{"i":39,"j":5,"v":31},{"i":40,"j":5,"v":31},{"i":41,"j":5,"v":31},{"i":42,"j":5,"v":31},{"i":43,"j":5,"v":31},{"i":44,"j":5,"v":31},{"i":45,"j":5,"v":31},{"i":46,"j":5,"v":31},{"i":47,"j":5,"v":31},{"i":48,"j":5,"v":31},
{"i":0,"j":4,"v":18.7},{"i":1,"j":4,"v":18.8},{"i":2,"j":4,"v":18.9},{"i":3,"j":4,"v":19},{"i":4,"j":4,"v":19.2},{"i":5,"j":4,"v":19.4},{"i":6,"j":4,"v":19.5},{"i":7,"j":4,"v":19.7},{"i":8,"j":4,"v":19.9},{"i":9,"j":4,"v":20.1},{"i":10,"j":4,"v":20.3},{"i":11,"j":4,"v":20.5},{"i":12,"j":4,"v":20.7},{"i":13,"j":4,"v":21},{"i":14,"j":4,"v":21.2},{"i":15,"j":4,"v":21.4},{"i":16,"j":4,"v":21.7},{"i":17,"j":4,"v":21.9},{"i":18,"j":4,"v":22.2},{"i":19,"j":4,"v":22.5},{"i":20,"j":4,"v":22.8},{"i":21,"j":4,"v":23.1},{"i":22,"j":4,"v":23.4},{"i":23,"j":4,"v":23.7},{"i":24,"j":4,"v":24.5},{"i":25,"j":4,"v":25.2},{"i":26,"j":4,"v":26},{"i":27,"j":4,"v":26.7},{"i":28,"j":4,"v":27.5},{"i":29,"j":4,"v":28.2},{"i":30,"j":4,"v":29},{"i":31,"j":4,"v":29.7},{"i":32,"j":4,"v":31},{"i":33,"j":4,"v":31},{"i":34,"j":4,"v":31},{"i":35,"j":4,"v":31},{"i":36,"j":4,"v":31},{"i":37,"j":4,"v":31},{"i":38,"j":4,"v":31},{"i":39,"j":4,"v":31},{"i":40,"j":4,"v":31},{"i":41,"j":4,"v":31},{"i":42,"j":4,"v":31},{"i":43,"j":4,"v":31},{"i":44,"j":4,"v":31},{"i":45,"j":4,"v":31},{"i":46,"j":4,"v":31},{"i":47,"j":4,"v":31},{"i":48,"j":4,"v":31},
{"i":0,"j":3,"v":18.75},{"i":1,"j":3,"v":18.8},{"i":2,"j":3,"v":18.9},{"i":3,"j":3,"v":19.1},{"i":4,"j":3,"v":19.2},{"i":5,"j":3,"v":19.4},{"i":6,"j":3,"v":19.6},{"i":7,"j":3,"v":19.7},{"i":8,"j":3,"v":19.9},{"i":9,"j":3,"v":20.1},{"i":10,"j":3,"v":20.3},{"i":11,"j":3,"v":20.5},{"i":12,"j":3,"v":20.8},{"i":13,"j":3,"v":21},{"i":14,"j":3,"v":21.2},{"i":15,"j":3,"v":21.4},{"i":16,"j":3,"v":21.7},{"i":17,"j":3,"v":21.9},{"i":18,"j":3,"v":22.2},{"i":19,"j":3,"v":22.5},{"i":20,"j":3,"v":22.8},{"i":21,"j":3,"v":23.1},{"i":22,"j":3,"v":23.4},{"i":23,"j":3,"v":23.7},{"i":24,"j":3,"v":24.5},{"i":25,"j":3,"v":25.2},{"i":26,"j":3,"v":26},{"i":27,"j":3,"v":26.7},{"i":28,"j":3,"v":27.5},{"i":29,"j":3,"v":28.2},{"i":30,"j":3,"v":29},{"i":31,"j":3,"v":29.7},{"i":32,"j":3,"v":31},{"i":33,"j":3,"v":31},{"i":34,"j":3,"v":31},{"i":35,"j":3,"v":31},{"i":36,"j":3,"v":31},{"i":37,"j":3,"v":31},{"i":38,"j":3,"v":31},{"i":39,"j":3,"v":31},{"i":40,"j":3,"v":31},{"i":41,"j":3,"v":31},{"i":42,"j":3,"v":31},{"i":43,"j":3,"v":31},{"i":44,"j":3,"v":31},{"i":45,"j":3,"v":31},{"i":46,"j":3,"v":31},{"i":47,"j":3,"v":31},{"i":48,"j":3,"v":31},
{"i":0,"j":2,"v":18.75},{"i":1,"j":2,"v":18.8},{"i":2,"j":2,"v":18.9},{"i":3,"j":2,"v":19.1},{"i":4,"j":2,"v":19.2},{"i":5,"j":2,"v":19.4},{"i":6,"j":2,"v":19.6},{"i":7,"j":2,"v":19.7},{"i":8,"j":2,"v":19.9},{"i":9,"j":2,"v":20.1},{"i":10,"j":2,"v":20.3},{"i":11,"j":2,"v":20.5},{"i":12,"j":2,"v":20.8},{"i":13,"j":2,"v":21},{"i":14,"j":2,"v":21.2},{"i":15,"j":2,"v":21.4},{"i":16,"j":2,"v":21.7},{"i":17,"j":2,"v":21.9},{"i":18,"j":2,"v":22.2},{"i":19,"j":2,"v":22.5},{"i":20,"j":2,"v":22.8},{"i":21,"j":2,"v":23.1},{"i":22,"j":2,"v":23.4},{"i":23,"j":2,"v":23.7},{"i":24,"j":2,"v":24.5},{"i":25,"j":2,"v":25.2},{"i":26,"j":2,"v":26},{"i":27,"j":2,"v":26.7},{"i":28,"j":2,"v":27.5},{"i":29,"j":2,"v":28.2},{"i":30,"j":2,"v":29},{"i":31,"j":2,"v":29.7},{"i":32,"j":2,"v":31},{"i":33,"j":2,"v":31},{"i":34,"j":2,"v":31},{"i":35,"j":2,"v":31},{"i":36,"j":2,"v":31},{"i":37,"j":2,"v":31},{"i":38,"j":2,"v":31},{"i":39,"j":2,"v":31},{"i":40,"j":2,"v":31},{"i":41,"j":2,"v":31},{"i":42,"j":2,"v":31},{"i":43,"j":2,"v":31},{"i":44,"j":2,"v":31},{"i":45,"j":2,"v":31},{"i":46,"j":2,"v":31},{"i":47,"j":2,"v":31},{"i":48,"j":2,"v":31},
{"i":0,"j":1,"v":18.75},{"i":1,"j":1,"v":18.8},{"i":2,"j":1,"v":18.9},{"i":3,"j":1,"v":19.1},{"i":4,"j":1,"v":19.2},{"i":5,"j":1,"v":19.4},{"i":6,"j":1,"v":19.6},{"i":7,"j":1,"v":19.7},{"i":8,"j":1,"v":19.9},{"i":9,"j":1,"v":20.1},{"i":10,"j":1,"v":20.3},{"i":11,"j":1,"v":20.5},{"i":12,"j":1,"v":20.8},{"i":13,"j":1,"v":21},{"i":14,"j":1,"v":21.2},{"i":15,"j":1,"v":21.4},{"i":16,"j":1,"v":21.7},{"i":17,"j":1,"v":21.9},{"i":18,"j":1,"v":22.2},{"i":19,"j":1,"v":22.5},{"i":20,"j":1,"v":22.8},{"i":21,"j":1,"v":23.1},{"i":22,"j":1,"v":23.4},{"i":23,"j":1,"v":23.7},{"i":24,"j":1,"v":24.5},{"i":25,"j":1,"v":25.2},{"i":26,"j":1,"v":26},{"i":27,"j":1,"v":26.7},{"i":28,"j":1,"v":27.5},{"i":29,"j":1,"v":28.2},{"i":30,"j":1,"v":29},{"i":31,"j":1,"v":29.7},{"i":32,"j":1,"v":31},{"i":33,"j":1,"v":31},{"i":34,"j":1,"v":31},{"i":35,"j":1,"v":31},{"i":36,"j":1,"v":31},{"i":37,"j":1,"v":31},{"i":38,"j":1,"v":31},{"i":39,"j":1,"v":31},{"i":40,"j":1,"v":31},{"i":41,"j":1,"v":31},{"i":42,"j":1,"v":31},{"i":43,"j":1,"v":31},{"i":44,"j":1,"v":31},{"i":45,"j":1,"v":31},{"i":46,"j":1,"v":31},{"i":47,"j":1,"v":31},{"i":48,"j":1,"v":31},
{"i":0,"j":0,"v":18.75},{"i":1,"j":0,"v":18.8},{"i":2,"j":0,"v":18.9},{"i":3,"j":0,"v":19.1},{"i":4,"j":0,"v":19.2},{"i":5,"j":0,"v":19.4},{"i":6,"j":0,"v":19.6},{"i":7,"j":0,"v":19.7},{"i":8,"j":0,"v":19.9},{"i":9,"j":0,"v":20.1},{"i":10,"j":0,"v":20.3},{"i":11,"j":0,"v":20.5},{"i":12,"j":0,"v":20.8},{"i":13,"j":0,"v":21},{"i":14,"j":0,"v":21.2},{"i":15,"j":0,"v":21.4},{"i":16,"j":0,"v":21.7},{"i":17,"j":0,"v":21.9},{"i":18,"j":0,"v":22.2},{"i":19,"j":0,"v":22.5},{"i":20,"j":0,"v":22.8},{"i":21,"j":0,"v":23.1},{"i":22,"j":0,"v":23.4},{"i":23,"j":0,"v":23.7},{"i":24,"j":0,"v":24.5},{"i":25,"j":0,"v":25.2},{"i":26,"j":0,"v":26},{"i":27,"j":0,"v":26.7},{"i":28,"j":0,"v":27.5},{"i":29,"j":0,"v":28.2},{"i":30,"j":0,"v":29},{"i":31,"j":0,"v":29.7},{"i":32,"j":0,"v":31},{"i":33,"j":0,"v":31},{"i":34,"j":0,"v":31},{"i":35,"j":0,"v":31},{"i":36,"j":0,"v":31},{"i":37,"j":0,"v":31},{"i":38,"j":0,"v":31},{"i":39,"j":0,"v":31},{"i":40,"j":0,"v":31},{"i":41,"j":0,"v":31},{"i":42,"j":0,"v":31},{"i":43,"j":0,"v":31},{"i":44,"j":0,"v":31},{"i":45,"j":0,"v":31},{"i":46,"j":0,"v":31},{"i":47,"j":0,"v":31},{"i":48,"j":0,"v":31}
]
},
"data": {"name": "cells"},
"transform": [
{"lookup": "i", "from": {"data": {"name": "grid"}, "key": "k", "fields": ["lo", "hi"]}, "as": ["x", "x2"]},
{"lookup": "j", "from": {"data": {"name": "grid"}, "key": "k", "fields": ["lo", "hi"]}, "as": ["y", "y2"]}
],
"mark": {"type": "rect", "stroke": "#000", "strokeWidth": 1.5},
"encoding": {
"x": {"field": "x", "type": "quantitative", "scale": {"domain": [0, 1], "nice": false, "zero": false},
 "axis": {"values": [0, 0.2, 0.4, 0.6, 0.8, 1], "format": "~g", "title": "Δ p / Γₚ", "titleFont": "Liberation Sans", "titleFontSize": 26, "titleFontWeight": "normal", "titleColor": "#000", "titlePadding": 1, "titleX": 274, "labelFont": "Liberation Sans", "labelFontSize": 21, "labelColor": "#000", "labelPadding": 4, "labelFlush": false, "labelOverlap": false, "ticks": false, "tickSize": 0, "domain": false, "grid": false}},
"x2": {"field": "x2"},
"y": {"field": "y", "type": "quantitative", "scale": {"domain": [0, 1], "nice": false, "zero": false},
 "axis": {"values": [0, 0.2, 0.4, 0.6, 0.8, 1], "format": "~g", "title": "Δ s / Γₛ", "titleFont": "Liberation Sans", "titleFontSize": 26, "titleFontWeight": "normal", "titleColor": "#000", "titlePadding": 5, "titleY": 252, "labelFont": "Liberation Sans", "labelFontSize": 21, "labelColor": "#000", "labelPadding": 9, "labelFlush": false, "labelOverlap": false, "ticks": false, "tickSize": 0, "domain": false, "grid": false}},
"y2": {"field": "y2"},
"color": {"field": "v", "type": "quantitative",
 "scale": {"type": "linear", "domain": [18, 18.5, 19, 20, 21, 22, 23, 23.99, 24, 25, 26, 27, 28, 29, 30], "range": ["#ff1e00", "#ff5a00", "#ff8200", "#ffb400", "#ffd800", "#ffff00", "#ccff00", "#80ff00", "#00ff44", "#00ff99", "#00ffc4", "#00ffe6", "#00ffff", "#00cdff", "#0a9bff"], "clamp": true, "interpolate": "rgb"},
 "legend": {"title": null, "orient": "right", "offset": 27, "padding": 0, "direction": "vertical", "gradientLength": 482, "gradientThickness": 21, "gradientStrokeColor": "#000", "gradientStrokeWidth": 1, "values": [18, 20, 22, 24, 26, 28, 30], "labelExpr": "datum.value >= 30 ? '>30' : datum.label", "labelFont": "Liberation Sans", "labelFontSize": 21, "labelColor": "#000", "labelOffset": 4, "labelOverlap": false}}
}
}
